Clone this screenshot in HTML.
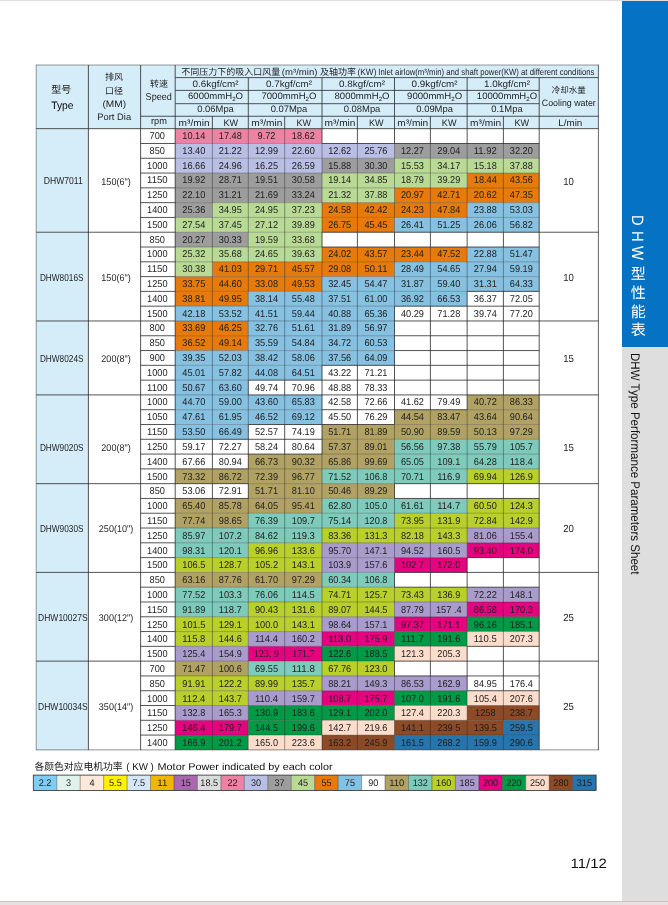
<!DOCTYPE html>
<html lang="zh">
<head>
<meta charset="utf-8">
<title>DHW型性能表 DHW Type Performance Parameters Sheet</title>
<style>
html,body{margin:0;padding:0;}
body{width:668px;height:905px;overflow:hidden;background:#fff;position:relative;
 font-family:"Liberation Sans","Noto Sans CJK SC",sans-serif;color:#1f1f1f;text-rendering:geometricPrecision;}
#page{position:absolute;left:0;top:0;width:668px;height:905px;overflow:hidden;background:#fff;}
#topline{position:absolute;left:0;top:0;width:668px;height:1px;background:#e3dddd;z-index:5;}
#botline{position:absolute;left:0;top:901px;width:668px;height:1px;background:#c9c3c3;z-index:5;}
#botpad{position:absolute;left:0;top:902px;width:668px;height:3px;background:#e7e1e1;z-index:5;}
#side{position:absolute;left:622.2px;top:0;width:46px;height:902px;background:#dedede;}
#side .blue{position:absolute;left:0;top:0;width:46px;height:347.3px;background:#0572c3;}
#side .cn{position:absolute;left:0;top:215px;width:28.6px;writing-mode:vertical-rl;text-orientation:mixed;
 color:#fff;font-size:15px;letter-spacing:3.7px;line-height:28.6px;white-space:nowrap;}
#side .cn span{display:inline-block;font-size:16.4px;letter-spacing:0;transform:scaleY(.9);transform-origin:50% 0;position:relative;left:0.4px;}
#side .cn .a{margin-bottom:3.7px;}
#side .cn .b{margin-bottom:3.7px;}
#side .cn .c{margin-bottom:4.4px;}
#side .en{position:absolute;left:0;top:353.4px;width:23.4px;writing-mode:vertical-rl;text-orientation:mixed;
 color:#111;font-size:12.5px;line-height:23.4px;white-space:nowrap;transform:scaleY(.925);transform-origin:50% 0;}
svg{position:absolute;left:0;top:0;}
svg text{font-family:"Liberation Sans","Noto Sans CJK SC",sans-serif;fill:#1f1f1f;text-anchor:middle;text-rendering:geometricPrecision;}
.d{font-size:9.9px;}
.h{font-size:9.3px;}
.h10{font-size:10px;}
.h11{font-size:10.8px;fill:#000;}
.hc{font-size:10px;}
.hcs{font-size:8.5px;}
.hc9{font-size:9px;}
.ht{font-size:9px;}
.sub{font-size:6px;}
.nm{font-size:10.2px;}
.pt{font-size:9.8px;}
.cw{font-size:10.3px;}
svg text.sf{font-family:"Liberation Serif","Noto Serif CJK SC",serif;font-size:10.4px;}
.lg{font-size:9.6px;}
svg .lt{font-size:10px;text-anchor:start;fill:#111;}
svg .le{font-size:10px;text-anchor:start;fill:#111;}
svg .pn{font-size:13.5px;text-anchor:start;fill:#111;}
</style>
</head>
<body>
<div id="page">
<div id="topline"></div>
<svg width="668" height="905" viewBox="0 0 668 905">
<g id="fills">
<rect x="36.20" y="65.00" width="562.20" height="63.65" fill="#d5ecf9"/>
<rect x="36.20" y="128.65" width="52.20" height="621.23" fill="#d5ecf9"/>
<rect x="175.20" y="128.70" width="146.80" height="14.84" fill="#ee82a4"/>
<rect x="175.20" y="143.49" width="219.30" height="14.84" fill="#b9bfe4"/>
<rect x="394.50" y="143.49" width="144.70" height="14.84" fill="#9d9d9e"/>
<rect x="175.20" y="158.28" width="146.80" height="14.84" fill="#b9bfe4"/>
<rect x="322.00" y="158.28" width="72.50" height="14.84" fill="#9d9d9e"/>
<rect x="394.50" y="158.28" width="144.70" height="14.84" fill="#b9da95"/>
<rect x="175.20" y="173.07" width="146.80" height="14.84" fill="#9d9d9e"/>
<rect x="322.00" y="173.07" width="145.15" height="14.84" fill="#b9da95"/>
<rect x="467.15" y="173.07" width="72.05" height="14.84" fill="#e67a0a"/>
<rect x="175.20" y="187.86" width="146.80" height="14.84" fill="#9d9d9e"/>
<rect x="322.00" y="187.86" width="72.50" height="14.84" fill="#b9da95"/>
<rect x="394.50" y="187.86" width="144.70" height="14.84" fill="#e67a0a"/>
<rect x="175.20" y="202.65" width="37.20" height="14.84" fill="#9d9d9e"/>
<rect x="212.40" y="202.65" width="109.60" height="14.84" fill="#b9da95"/>
<rect x="322.00" y="202.65" width="145.15" height="14.84" fill="#e67a0a"/>
<rect x="467.15" y="202.65" width="72.05" height="14.84" fill="#86c1e1"/>
<rect x="175.20" y="217.44" width="146.80" height="14.84" fill="#b9da95"/>
<rect x="322.00" y="217.44" width="72.50" height="14.84" fill="#e67a0a"/>
<rect x="394.50" y="217.44" width="144.70" height="14.84" fill="#86c1e1"/>
<rect x="175.20" y="232.23" width="73.10" height="14.84" fill="#9d9d9e"/>
<rect x="248.30" y="232.23" width="73.70" height="14.84" fill="#b9da95"/>
<rect x="175.20" y="247.02" width="146.80" height="14.84" fill="#b9da95"/>
<rect x="322.00" y="247.02" width="145.15" height="14.84" fill="#e67a0a"/>
<rect x="467.15" y="247.02" width="72.05" height="14.84" fill="#86c1e1"/>
<rect x="175.20" y="261.81" width="37.20" height="14.84" fill="#b9da95"/>
<rect x="212.40" y="261.81" width="182.10" height="14.84" fill="#e67a0a"/>
<rect x="394.50" y="261.81" width="144.70" height="14.84" fill="#86c1e1"/>
<rect x="175.20" y="276.60" width="146.80" height="14.84" fill="#e67a0a"/>
<rect x="322.00" y="276.60" width="217.20" height="14.84" fill="#86c1e1"/>
<rect x="175.20" y="291.39" width="73.10" height="14.84" fill="#e67a0a"/>
<rect x="248.30" y="291.39" width="218.85" height="14.84" fill="#86c1e1"/>
<rect x="175.20" y="306.18" width="219.30" height="14.84" fill="#86c1e1"/>
<rect x="175.20" y="320.97" width="73.10" height="14.84" fill="#e67a0a"/>
<rect x="248.30" y="320.97" width="146.20" height="14.84" fill="#86c1e1"/>
<rect x="175.20" y="335.76" width="73.10" height="14.84" fill="#e67a0a"/>
<rect x="248.30" y="335.76" width="146.20" height="14.84" fill="#86c1e1"/>
<rect x="175.20" y="350.55" width="219.30" height="14.84" fill="#86c1e1"/>
<rect x="175.20" y="365.34" width="146.80" height="14.84" fill="#86c1e1"/>
<rect x="175.20" y="380.13" width="73.10" height="14.84" fill="#86c1e1"/>
<rect x="175.20" y="394.92" width="146.80" height="14.84" fill="#86c1e1"/>
<rect x="467.15" y="394.92" width="72.05" height="14.84" fill="#b1a263"/>
<rect x="175.20" y="409.71" width="146.80" height="14.84" fill="#86c1e1"/>
<rect x="394.50" y="409.71" width="144.70" height="14.84" fill="#b1a263"/>
<rect x="175.20" y="424.50" width="73.10" height="14.84" fill="#86c1e1"/>
<rect x="322.00" y="424.50" width="217.20" height="14.84" fill="#b1a263"/>
<rect x="322.00" y="439.29" width="72.50" height="14.84" fill="#b1a263"/>
<rect x="394.50" y="439.29" width="144.70" height="14.84" fill="#7fcbbb"/>
<rect x="248.30" y="454.08" width="146.20" height="14.84" fill="#b1a263"/>
<rect x="394.50" y="454.08" width="144.70" height="14.84" fill="#7fcbbb"/>
<rect x="175.20" y="468.87" width="146.80" height="14.84" fill="#b1a263"/>
<rect x="322.00" y="468.87" width="145.15" height="14.84" fill="#7fcbbb"/>
<rect x="467.15" y="468.87" width="72.05" height="14.84" fill="#b9cf2b"/>
<rect x="248.30" y="483.66" width="146.20" height="14.84" fill="#b1a263"/>
<rect x="175.20" y="498.45" width="146.80" height="14.84" fill="#b1a263"/>
<rect x="322.00" y="498.45" width="145.15" height="14.84" fill="#7fcbbb"/>
<rect x="467.15" y="498.45" width="72.05" height="14.84" fill="#b9cf2b"/>
<rect x="175.20" y="513.24" width="73.10" height="14.84" fill="#b1a263"/>
<rect x="248.30" y="513.24" width="146.20" height="14.84" fill="#7fcbbb"/>
<rect x="394.50" y="513.24" width="144.70" height="14.84" fill="#b9cf2b"/>
<rect x="175.20" y="528.03" width="146.80" height="14.84" fill="#7fcbbb"/>
<rect x="322.00" y="528.03" width="145.15" height="14.84" fill="#b9cf2b"/>
<rect x="467.15" y="528.03" width="72.05" height="14.84" fill="#a99ccd"/>
<rect x="175.20" y="542.82" width="73.10" height="14.84" fill="#7fcbbb"/>
<rect x="248.30" y="542.82" width="73.70" height="14.84" fill="#b9cf2b"/>
<rect x="322.00" y="542.82" width="145.15" height="14.84" fill="#a99ccd"/>
<rect x="467.15" y="542.82" width="72.05" height="14.84" fill="#e4047f"/>
<rect x="175.20" y="557.61" width="146.80" height="14.84" fill="#b9cf2b"/>
<rect x="322.00" y="557.61" width="72.50" height="14.84" fill="#a99ccd"/>
<rect x="394.50" y="557.61" width="72.65" height="14.84" fill="#e4047f"/>
<rect x="175.20" y="572.40" width="146.80" height="14.84" fill="#b1a263"/>
<rect x="322.00" y="572.40" width="72.50" height="14.84" fill="#7fcbbb"/>
<rect x="175.20" y="587.19" width="146.80" height="14.84" fill="#7fcbbb"/>
<rect x="322.00" y="587.19" width="145.15" height="14.84" fill="#b9cf2b"/>
<rect x="467.15" y="587.19" width="72.05" height="14.84" fill="#a99ccd"/>
<rect x="175.20" y="601.98" width="73.10" height="14.84" fill="#7fcbbb"/>
<rect x="248.30" y="601.98" width="146.20" height="14.84" fill="#b9cf2b"/>
<rect x="394.50" y="601.98" width="72.65" height="14.84" fill="#a99ccd"/>
<rect x="467.15" y="601.98" width="72.05" height="14.84" fill="#e4047f"/>
<rect x="175.20" y="616.77" width="146.80" height="14.84" fill="#b9cf2b"/>
<rect x="322.00" y="616.77" width="72.50" height="14.84" fill="#a99ccd"/>
<rect x="394.50" y="616.77" width="72.65" height="14.84" fill="#e4047f"/>
<rect x="467.15" y="616.77" width="72.05" height="14.84" fill="#009a47"/>
<rect x="175.20" y="631.56" width="73.10" height="14.84" fill="#b9cf2b"/>
<rect x="248.30" y="631.56" width="73.70" height="14.84" fill="#a99ccd"/>
<rect x="322.00" y="631.56" width="72.50" height="14.84" fill="#e4047f"/>
<rect x="394.50" y="631.56" width="72.65" height="14.84" fill="#009a47"/>
<rect x="467.15" y="631.56" width="72.05" height="14.84" fill="#fcdccb"/>
<rect x="175.20" y="646.35" width="73.10" height="14.84" fill="#a99ccd"/>
<rect x="248.30" y="646.35" width="73.70" height="14.84" fill="#e4047f"/>
<rect x="322.00" y="646.35" width="72.50" height="14.84" fill="#009a47"/>
<rect x="394.50" y="646.35" width="72.65" height="14.84" fill="#fcdccb"/>
<rect x="175.20" y="661.14" width="73.10" height="14.84" fill="#b1a263"/>
<rect x="248.30" y="661.14" width="73.70" height="14.84" fill="#7fcbbb"/>
<rect x="322.00" y="661.14" width="72.50" height="14.84" fill="#b9cf2b"/>
<rect x="175.20" y="675.93" width="146.80" height="14.84" fill="#b9cf2b"/>
<rect x="322.00" y="675.93" width="145.15" height="14.84" fill="#a99ccd"/>
<rect x="175.20" y="690.72" width="73.10" height="14.84" fill="#b9cf2b"/>
<rect x="248.30" y="690.72" width="73.70" height="14.84" fill="#a99ccd"/>
<rect x="322.00" y="690.72" width="72.50" height="14.84" fill="#e4047f"/>
<rect x="394.50" y="690.72" width="72.65" height="14.84" fill="#009a47"/>
<rect x="467.15" y="690.72" width="72.05" height="14.84" fill="#fcdccb"/>
<rect x="175.20" y="705.51" width="73.10" height="14.84" fill="#a99ccd"/>
<rect x="248.30" y="705.51" width="146.20" height="14.84" fill="#009a47"/>
<rect x="394.50" y="705.51" width="72.65" height="14.84" fill="#fcdccb"/>
<rect x="467.15" y="705.51" width="72.05" height="14.84" fill="#8c4a26"/>
<rect x="175.20" y="720.30" width="73.10" height="14.84" fill="#e4047f"/>
<rect x="248.30" y="720.30" width="73.70" height="14.84" fill="#009a47"/>
<rect x="322.00" y="720.30" width="72.50" height="14.84" fill="#fcdccb"/>
<rect x="394.50" y="720.30" width="108.90" height="14.84" fill="#8c4a26"/>
<rect x="503.40" y="720.30" width="35.80" height="14.84" fill="#2775ad"/>
<rect x="175.20" y="735.09" width="73.10" height="14.84" fill="#009a47"/>
<rect x="248.30" y="735.09" width="73.70" height="14.84" fill="#fcdccb"/>
<rect x="322.00" y="735.09" width="72.50" height="14.84" fill="#8c4a26"/>
<rect x="394.50" y="735.09" width="144.70" height="14.84" fill="#2775ad"/>
<line x1="175.20" y1="77.60" x2="598.40" y2="77.60" stroke="#2a2a2a" stroke-width="0.8"/>
<line x1="175.20" y1="90.40" x2="539.20" y2="90.40" stroke="#2a2a2a" stroke-width="0.8"/>
<line x1="175.20" y1="103.70" x2="539.20" y2="103.70" stroke="#2a2a2a" stroke-width="0.8"/>
<line x1="140.60" y1="116.25" x2="598.40" y2="116.25" stroke="#2a2a2a" stroke-width="0.8"/>
<line x1="36.20" y1="128.65" x2="598.40" y2="128.65" stroke="#2a2a2a" stroke-width="0.8"/>
<line x1="88.40" y1="65.00" x2="88.40" y2="128.65" stroke="#2a2a2a" stroke-width="0.8"/>
<line x1="140.60" y1="65.00" x2="140.60" y2="128.65" stroke="#2a2a2a" stroke-width="0.8"/>
<line x1="175.20" y1="65.00" x2="175.20" y2="128.65" stroke="#2a2a2a" stroke-width="0.8"/>
<line x1="212.40" y1="116.25" x2="212.40" y2="128.65" stroke="#2a2a2a" stroke-width="0.8"/>
<line x1="248.30" y1="77.60" x2="248.30" y2="128.65" stroke="#2a2a2a" stroke-width="0.8"/>
<line x1="284.70" y1="116.25" x2="284.70" y2="128.65" stroke="#2a2a2a" stroke-width="0.8"/>
<line x1="322.00" y1="77.60" x2="322.00" y2="128.65" stroke="#2a2a2a" stroke-width="0.8"/>
<line x1="357.40" y1="116.25" x2="357.40" y2="128.65" stroke="#2a2a2a" stroke-width="0.8"/>
<line x1="394.50" y1="77.60" x2="394.50" y2="128.65" stroke="#2a2a2a" stroke-width="0.8"/>
<line x1="430.40" y1="116.25" x2="430.40" y2="128.65" stroke="#2a2a2a" stroke-width="0.8"/>
<line x1="467.15" y1="77.60" x2="467.15" y2="128.65" stroke="#2a2a2a" stroke-width="0.8"/>
<line x1="503.40" y1="116.25" x2="503.40" y2="128.65" stroke="#2a2a2a" stroke-width="0.8"/>
<line x1="539.20" y1="77.60" x2="539.20" y2="128.65" stroke="#2a2a2a" stroke-width="0.8"/>
<line x1="88.40" y1="128.65" x2="88.40" y2="749.88" stroke="#2a2a2a" stroke-width="0.8"/>
<line x1="140.60" y1="128.65" x2="140.60" y2="749.88" stroke="#2a2a2a" stroke-width="0.8"/>
<line x1="175.20" y1="128.65" x2="175.20" y2="749.88" stroke="#2a2a2a" stroke-width="0.8"/>
<line x1="539.20" y1="128.65" x2="539.20" y2="749.88" stroke="#2a2a2a" stroke-width="0.8"/>
<line x1="212.40" y1="128.70" x2="212.40" y2="439.29" stroke="#2a2a2a" stroke-width="0.8" stroke-opacity="0.55"/>
<line x1="212.40" y1="439.29" x2="212.40" y2="468.87" stroke="#2a2a2a" stroke-width="0.8"/>
<line x1="212.40" y1="468.87" x2="212.40" y2="483.66" stroke="#2a2a2a" stroke-width="0.8" stroke-opacity="0.55"/>
<line x1="212.40" y1="483.66" x2="212.40" y2="498.45" stroke="#2a2a2a" stroke-width="0.8"/>
<line x1="212.40" y1="498.45" x2="212.40" y2="749.88" stroke="#2a2a2a" stroke-width="0.8" stroke-opacity="0.55"/>
<line x1="248.30" y1="128.70" x2="248.30" y2="380.13" stroke="#2a2a2a" stroke-width="0.8" stroke-opacity="0.55"/>
<line x1="248.30" y1="380.13" x2="248.30" y2="394.92" stroke="#2a2a2a" stroke-width="0.8"/>
<line x1="248.30" y1="394.92" x2="248.30" y2="424.50" stroke="#2a2a2a" stroke-width="0.8" stroke-opacity="0.55"/>
<line x1="248.30" y1="424.50" x2="248.30" y2="468.87" stroke="#2a2a2a" stroke-width="0.8"/>
<line x1="248.30" y1="468.87" x2="248.30" y2="483.66" stroke="#2a2a2a" stroke-width="0.8" stroke-opacity="0.55"/>
<line x1="248.30" y1="483.66" x2="248.30" y2="498.45" stroke="#2a2a2a" stroke-width="0.8"/>
<line x1="248.30" y1="498.45" x2="248.30" y2="749.88" stroke="#2a2a2a" stroke-width="0.8" stroke-opacity="0.55"/>
<line x1="284.70" y1="128.70" x2="284.70" y2="380.13" stroke="#2a2a2a" stroke-width="0.8" stroke-opacity="0.55"/>
<line x1="284.70" y1="380.13" x2="284.70" y2="394.92" stroke="#2a2a2a" stroke-width="0.8"/>
<line x1="284.70" y1="394.92" x2="284.70" y2="424.50" stroke="#2a2a2a" stroke-width="0.8" stroke-opacity="0.55"/>
<line x1="284.70" y1="424.50" x2="284.70" y2="454.08" stroke="#2a2a2a" stroke-width="0.8"/>
<line x1="284.70" y1="454.08" x2="284.70" y2="749.88" stroke="#2a2a2a" stroke-width="0.8" stroke-opacity="0.55"/>
<line x1="322.00" y1="128.70" x2="322.00" y2="143.49" stroke="#2a2a2a" stroke-width="0.8"/>
<line x1="322.00" y1="143.49" x2="322.00" y2="232.23" stroke="#2a2a2a" stroke-width="0.8" stroke-opacity="0.55"/>
<line x1="322.00" y1="232.23" x2="322.00" y2="247.02" stroke="#2a2a2a" stroke-width="0.8"/>
<line x1="322.00" y1="247.02" x2="322.00" y2="365.34" stroke="#2a2a2a" stroke-width="0.8" stroke-opacity="0.55"/>
<line x1="322.00" y1="365.34" x2="322.00" y2="454.08" stroke="#2a2a2a" stroke-width="0.8"/>
<line x1="322.00" y1="454.08" x2="322.00" y2="749.88" stroke="#2a2a2a" stroke-width="0.8" stroke-opacity="0.55"/>
<line x1="357.40" y1="128.70" x2="357.40" y2="143.49" stroke="#2a2a2a" stroke-width="0.8"/>
<line x1="357.40" y1="143.49" x2="357.40" y2="232.23" stroke="#2a2a2a" stroke-width="0.8" stroke-opacity="0.55"/>
<line x1="357.40" y1="232.23" x2="357.40" y2="247.02" stroke="#2a2a2a" stroke-width="0.8"/>
<line x1="357.40" y1="247.02" x2="357.40" y2="365.34" stroke="#2a2a2a" stroke-width="0.8" stroke-opacity="0.55"/>
<line x1="357.40" y1="365.34" x2="357.40" y2="424.50" stroke="#2a2a2a" stroke-width="0.8"/>
<line x1="357.40" y1="424.50" x2="357.40" y2="749.88" stroke="#2a2a2a" stroke-width="0.8" stroke-opacity="0.55"/>
<line x1="394.50" y1="128.70" x2="394.50" y2="143.49" stroke="#2a2a2a" stroke-width="0.8"/>
<line x1="394.50" y1="143.49" x2="394.50" y2="232.23" stroke="#2a2a2a" stroke-width="0.8" stroke-opacity="0.55"/>
<line x1="394.50" y1="232.23" x2="394.50" y2="247.02" stroke="#2a2a2a" stroke-width="0.8"/>
<line x1="394.50" y1="247.02" x2="394.50" y2="306.18" stroke="#2a2a2a" stroke-width="0.8" stroke-opacity="0.55"/>
<line x1="394.50" y1="306.18" x2="394.50" y2="424.50" stroke="#2a2a2a" stroke-width="0.8"/>
<line x1="394.50" y1="424.50" x2="394.50" y2="483.66" stroke="#2a2a2a" stroke-width="0.8" stroke-opacity="0.55"/>
<line x1="394.50" y1="483.66" x2="394.50" y2="498.45" stroke="#2a2a2a" stroke-width="0.8"/>
<line x1="394.50" y1="498.45" x2="394.50" y2="572.40" stroke="#2a2a2a" stroke-width="0.8" stroke-opacity="0.55"/>
<line x1="394.50" y1="572.40" x2="394.50" y2="587.19" stroke="#2a2a2a" stroke-width="0.8"/>
<line x1="394.50" y1="587.19" x2="394.50" y2="661.14" stroke="#2a2a2a" stroke-width="0.8" stroke-opacity="0.55"/>
<line x1="394.50" y1="661.14" x2="394.50" y2="675.93" stroke="#2a2a2a" stroke-width="0.8"/>
<line x1="394.50" y1="675.93" x2="394.50" y2="749.88" stroke="#2a2a2a" stroke-width="0.8" stroke-opacity="0.55"/>
<line x1="430.40" y1="128.70" x2="430.40" y2="143.49" stroke="#2a2a2a" stroke-width="0.8"/>
<line x1="430.40" y1="143.49" x2="430.40" y2="232.23" stroke="#2a2a2a" stroke-width="0.8" stroke-opacity="0.55"/>
<line x1="430.40" y1="232.23" x2="430.40" y2="247.02" stroke="#2a2a2a" stroke-width="0.8"/>
<line x1="430.40" y1="247.02" x2="430.40" y2="306.18" stroke="#2a2a2a" stroke-width="0.8" stroke-opacity="0.55"/>
<line x1="430.40" y1="306.18" x2="430.40" y2="409.71" stroke="#2a2a2a" stroke-width="0.8"/>
<line x1="430.40" y1="409.71" x2="430.40" y2="483.66" stroke="#2a2a2a" stroke-width="0.8" stroke-opacity="0.55"/>
<line x1="430.40" y1="483.66" x2="430.40" y2="498.45" stroke="#2a2a2a" stroke-width="0.8"/>
<line x1="430.40" y1="498.45" x2="430.40" y2="572.40" stroke="#2a2a2a" stroke-width="0.8" stroke-opacity="0.55"/>
<line x1="430.40" y1="572.40" x2="430.40" y2="587.19" stroke="#2a2a2a" stroke-width="0.8"/>
<line x1="430.40" y1="587.19" x2="430.40" y2="661.14" stroke="#2a2a2a" stroke-width="0.8" stroke-opacity="0.55"/>
<line x1="430.40" y1="661.14" x2="430.40" y2="675.93" stroke="#2a2a2a" stroke-width="0.8"/>
<line x1="430.40" y1="675.93" x2="430.40" y2="749.88" stroke="#2a2a2a" stroke-width="0.8" stroke-opacity="0.55"/>
<line x1="467.15" y1="128.70" x2="467.15" y2="143.49" stroke="#2a2a2a" stroke-width="0.8"/>
<line x1="467.15" y1="143.49" x2="467.15" y2="232.23" stroke="#2a2a2a" stroke-width="0.8" stroke-opacity="0.55"/>
<line x1="467.15" y1="232.23" x2="467.15" y2="247.02" stroke="#2a2a2a" stroke-width="0.8"/>
<line x1="467.15" y1="247.02" x2="467.15" y2="291.39" stroke="#2a2a2a" stroke-width="0.8" stroke-opacity="0.55"/>
<line x1="467.15" y1="291.39" x2="467.15" y2="409.71" stroke="#2a2a2a" stroke-width="0.8"/>
<line x1="467.15" y1="409.71" x2="467.15" y2="483.66" stroke="#2a2a2a" stroke-width="0.8" stroke-opacity="0.55"/>
<line x1="467.15" y1="483.66" x2="467.15" y2="498.45" stroke="#2a2a2a" stroke-width="0.8"/>
<line x1="467.15" y1="498.45" x2="467.15" y2="557.61" stroke="#2a2a2a" stroke-width="0.8" stroke-opacity="0.55"/>
<line x1="467.15" y1="557.61" x2="467.15" y2="587.19" stroke="#2a2a2a" stroke-width="0.8"/>
<line x1="467.15" y1="587.19" x2="467.15" y2="646.35" stroke="#2a2a2a" stroke-width="0.8" stroke-opacity="0.55"/>
<line x1="467.15" y1="646.35" x2="467.15" y2="690.72" stroke="#2a2a2a" stroke-width="0.8"/>
<line x1="467.15" y1="690.72" x2="467.15" y2="749.88" stroke="#2a2a2a" stroke-width="0.8" stroke-opacity="0.55"/>
<line x1="503.40" y1="128.70" x2="503.40" y2="143.49" stroke="#2a2a2a" stroke-width="0.8"/>
<line x1="503.40" y1="143.49" x2="503.40" y2="232.23" stroke="#2a2a2a" stroke-width="0.8" stroke-opacity="0.55"/>
<line x1="503.40" y1="232.23" x2="503.40" y2="247.02" stroke="#2a2a2a" stroke-width="0.8"/>
<line x1="503.40" y1="247.02" x2="503.40" y2="291.39" stroke="#2a2a2a" stroke-width="0.8" stroke-opacity="0.55"/>
<line x1="503.40" y1="291.39" x2="503.40" y2="394.92" stroke="#2a2a2a" stroke-width="0.8"/>
<line x1="503.40" y1="394.92" x2="503.40" y2="483.66" stroke="#2a2a2a" stroke-width="0.8" stroke-opacity="0.55"/>
<line x1="503.40" y1="483.66" x2="503.40" y2="498.45" stroke="#2a2a2a" stroke-width="0.8"/>
<line x1="503.40" y1="498.45" x2="503.40" y2="557.61" stroke="#2a2a2a" stroke-width="0.8" stroke-opacity="0.55"/>
<line x1="503.40" y1="557.61" x2="503.40" y2="587.19" stroke="#2a2a2a" stroke-width="0.8"/>
<line x1="503.40" y1="587.19" x2="503.40" y2="646.35" stroke="#2a2a2a" stroke-width="0.8" stroke-opacity="0.55"/>
<line x1="503.40" y1="646.35" x2="503.40" y2="690.72" stroke="#2a2a2a" stroke-width="0.8"/>
<line x1="503.40" y1="690.72" x2="503.40" y2="749.88" stroke="#2a2a2a" stroke-width="0.8" stroke-opacity="0.55"/>
<line x1="140.60" y1="143.49" x2="175.20" y2="143.49" stroke="#2a2a2a" stroke-width="0.8"/>
<line x1="175.20" y1="143.49" x2="322.00" y2="143.49" stroke="#2a2a2a" stroke-width="0.8" stroke-opacity="0.4"/>
<line x1="322.00" y1="143.49" x2="539.20" y2="143.49" stroke="#2a2a2a" stroke-width="0.8"/>
<line x1="140.60" y1="158.28" x2="175.20" y2="158.28" stroke="#2a2a2a" stroke-width="0.8"/>
<line x1="175.20" y1="158.28" x2="539.20" y2="158.28" stroke="#2a2a2a" stroke-width="0.8" stroke-opacity="0.4"/>
<line x1="140.60" y1="173.07" x2="175.20" y2="173.07" stroke="#2a2a2a" stroke-width="0.8"/>
<line x1="175.20" y1="173.07" x2="539.20" y2="173.07" stroke="#2a2a2a" stroke-width="0.8" stroke-opacity="0.4"/>
<line x1="140.60" y1="187.86" x2="175.20" y2="187.86" stroke="#2a2a2a" stroke-width="0.8"/>
<line x1="175.20" y1="187.86" x2="539.20" y2="187.86" stroke="#2a2a2a" stroke-width="0.8" stroke-opacity="0.4"/>
<line x1="140.60" y1="202.65" x2="175.20" y2="202.65" stroke="#2a2a2a" stroke-width="0.8"/>
<line x1="175.20" y1="202.65" x2="539.20" y2="202.65" stroke="#2a2a2a" stroke-width="0.8" stroke-opacity="0.4"/>
<line x1="140.60" y1="217.44" x2="175.20" y2="217.44" stroke="#2a2a2a" stroke-width="0.8"/>
<line x1="175.20" y1="217.44" x2="539.20" y2="217.44" stroke="#2a2a2a" stroke-width="0.8" stroke-opacity="0.4"/>
<line x1="36.20" y1="232.23" x2="175.20" y2="232.23" stroke="#2a2a2a" stroke-width="0.8"/>
<line x1="539.20" y1="232.23" x2="598.40" y2="232.23" stroke="#2a2a2a" stroke-width="0.8"/>
<line x1="175.20" y1="232.23" x2="322.00" y2="232.23" stroke="#2a2a2a" stroke-width="0.8" stroke-opacity="0.4"/>
<line x1="322.00" y1="232.23" x2="539.20" y2="232.23" stroke="#2a2a2a" stroke-width="0.8"/>
<line x1="140.60" y1="247.02" x2="175.20" y2="247.02" stroke="#2a2a2a" stroke-width="0.8"/>
<line x1="175.20" y1="247.02" x2="322.00" y2="247.02" stroke="#2a2a2a" stroke-width="0.8" stroke-opacity="0.4"/>
<line x1="322.00" y1="247.02" x2="539.20" y2="247.02" stroke="#2a2a2a" stroke-width="0.8"/>
<line x1="140.60" y1="261.81" x2="175.20" y2="261.81" stroke="#2a2a2a" stroke-width="0.8"/>
<line x1="175.20" y1="261.81" x2="539.20" y2="261.81" stroke="#2a2a2a" stroke-width="0.8" stroke-opacity="0.4"/>
<line x1="140.60" y1="276.60" x2="175.20" y2="276.60" stroke="#2a2a2a" stroke-width="0.8"/>
<line x1="175.20" y1="276.60" x2="539.20" y2="276.60" stroke="#2a2a2a" stroke-width="0.8" stroke-opacity="0.4"/>
<line x1="140.60" y1="291.39" x2="175.20" y2="291.39" stroke="#2a2a2a" stroke-width="0.8"/>
<line x1="175.20" y1="291.39" x2="467.15" y2="291.39" stroke="#2a2a2a" stroke-width="0.8" stroke-opacity="0.4"/>
<line x1="467.15" y1="291.39" x2="539.20" y2="291.39" stroke="#2a2a2a" stroke-width="0.8"/>
<line x1="140.60" y1="306.18" x2="175.20" y2="306.18" stroke="#2a2a2a" stroke-width="0.8"/>
<line x1="175.20" y1="306.18" x2="394.50" y2="306.18" stroke="#2a2a2a" stroke-width="0.8" stroke-opacity="0.4"/>
<line x1="394.50" y1="306.18" x2="539.20" y2="306.18" stroke="#2a2a2a" stroke-width="0.8"/>
<line x1="36.20" y1="320.97" x2="175.20" y2="320.97" stroke="#2a2a2a" stroke-width="0.8"/>
<line x1="539.20" y1="320.97" x2="598.40" y2="320.97" stroke="#2a2a2a" stroke-width="0.8"/>
<line x1="175.20" y1="320.97" x2="394.50" y2="320.97" stroke="#2a2a2a" stroke-width="0.8" stroke-opacity="0.4"/>
<line x1="394.50" y1="320.97" x2="539.20" y2="320.97" stroke="#2a2a2a" stroke-width="0.8"/>
<line x1="140.60" y1="335.76" x2="175.20" y2="335.76" stroke="#2a2a2a" stroke-width="0.8"/>
<line x1="175.20" y1="335.76" x2="394.50" y2="335.76" stroke="#2a2a2a" stroke-width="0.8" stroke-opacity="0.4"/>
<line x1="394.50" y1="335.76" x2="539.20" y2="335.76" stroke="#2a2a2a" stroke-width="0.8"/>
<line x1="140.60" y1="350.55" x2="175.20" y2="350.55" stroke="#2a2a2a" stroke-width="0.8"/>
<line x1="175.20" y1="350.55" x2="394.50" y2="350.55" stroke="#2a2a2a" stroke-width="0.8" stroke-opacity="0.4"/>
<line x1="394.50" y1="350.55" x2="539.20" y2="350.55" stroke="#2a2a2a" stroke-width="0.8"/>
<line x1="140.60" y1="365.34" x2="175.20" y2="365.34" stroke="#2a2a2a" stroke-width="0.8"/>
<line x1="175.20" y1="365.34" x2="322.00" y2="365.34" stroke="#2a2a2a" stroke-width="0.8" stroke-opacity="0.4"/>
<line x1="322.00" y1="365.34" x2="539.20" y2="365.34" stroke="#2a2a2a" stroke-width="0.8"/>
<line x1="140.60" y1="380.13" x2="175.20" y2="380.13" stroke="#2a2a2a" stroke-width="0.8"/>
<line x1="175.20" y1="380.13" x2="248.30" y2="380.13" stroke="#2a2a2a" stroke-width="0.8" stroke-opacity="0.4"/>
<line x1="248.30" y1="380.13" x2="539.20" y2="380.13" stroke="#2a2a2a" stroke-width="0.8"/>
<line x1="36.20" y1="394.92" x2="175.20" y2="394.92" stroke="#2a2a2a" stroke-width="0.8"/>
<line x1="539.20" y1="394.92" x2="598.40" y2="394.92" stroke="#2a2a2a" stroke-width="0.8"/>
<line x1="175.20" y1="394.92" x2="248.30" y2="394.92" stroke="#2a2a2a" stroke-width="0.8" stroke-opacity="0.4"/>
<line x1="248.30" y1="394.92" x2="539.20" y2="394.92" stroke="#2a2a2a" stroke-width="0.8"/>
<line x1="140.60" y1="409.71" x2="175.20" y2="409.71" stroke="#2a2a2a" stroke-width="0.8"/>
<line x1="175.20" y1="409.71" x2="322.00" y2="409.71" stroke="#2a2a2a" stroke-width="0.8" stroke-opacity="0.4"/>
<line x1="322.00" y1="409.71" x2="467.15" y2="409.71" stroke="#2a2a2a" stroke-width="0.8"/>
<line x1="467.15" y1="409.71" x2="539.20" y2="409.71" stroke="#2a2a2a" stroke-width="0.8" stroke-opacity="0.4"/>
<line x1="140.60" y1="424.50" x2="175.20" y2="424.50" stroke="#2a2a2a" stroke-width="0.8"/>
<line x1="175.20" y1="424.50" x2="248.30" y2="424.50" stroke="#2a2a2a" stroke-width="0.8" stroke-opacity="0.4"/>
<line x1="248.30" y1="424.50" x2="394.50" y2="424.50" stroke="#2a2a2a" stroke-width="0.8"/>
<line x1="394.50" y1="424.50" x2="539.20" y2="424.50" stroke="#2a2a2a" stroke-width="0.8" stroke-opacity="0.4"/>
<line x1="140.60" y1="439.29" x2="175.20" y2="439.29" stroke="#2a2a2a" stroke-width="0.8"/>
<line x1="175.20" y1="439.29" x2="322.00" y2="439.29" stroke="#2a2a2a" stroke-width="0.8"/>
<line x1="322.00" y1="439.29" x2="539.20" y2="439.29" stroke="#2a2a2a" stroke-width="0.8" stroke-opacity="0.4"/>
<line x1="140.60" y1="454.08" x2="175.20" y2="454.08" stroke="#2a2a2a" stroke-width="0.8"/>
<line x1="175.20" y1="454.08" x2="322.00" y2="454.08" stroke="#2a2a2a" stroke-width="0.8"/>
<line x1="322.00" y1="454.08" x2="539.20" y2="454.08" stroke="#2a2a2a" stroke-width="0.8" stroke-opacity="0.4"/>
<line x1="140.60" y1="468.87" x2="175.20" y2="468.87" stroke="#2a2a2a" stroke-width="0.8"/>
<line x1="175.20" y1="468.87" x2="248.30" y2="468.87" stroke="#2a2a2a" stroke-width="0.8"/>
<line x1="248.30" y1="468.87" x2="539.20" y2="468.87" stroke="#2a2a2a" stroke-width="0.8" stroke-opacity="0.4"/>
<line x1="36.20" y1="483.66" x2="175.20" y2="483.66" stroke="#2a2a2a" stroke-width="0.8"/>
<line x1="539.20" y1="483.66" x2="598.40" y2="483.66" stroke="#2a2a2a" stroke-width="0.8"/>
<line x1="175.20" y1="483.66" x2="248.30" y2="483.66" stroke="#2a2a2a" stroke-width="0.8"/>
<line x1="248.30" y1="483.66" x2="394.50" y2="483.66" stroke="#2a2a2a" stroke-width="0.8" stroke-opacity="0.4"/>
<line x1="394.50" y1="483.66" x2="539.20" y2="483.66" stroke="#2a2a2a" stroke-width="0.8"/>
<line x1="140.60" y1="498.45" x2="175.20" y2="498.45" stroke="#2a2a2a" stroke-width="0.8"/>
<line x1="175.20" y1="498.45" x2="248.30" y2="498.45" stroke="#2a2a2a" stroke-width="0.8"/>
<line x1="248.30" y1="498.45" x2="394.50" y2="498.45" stroke="#2a2a2a" stroke-width="0.8" stroke-opacity="0.4"/>
<line x1="394.50" y1="498.45" x2="539.20" y2="498.45" stroke="#2a2a2a" stroke-width="0.8"/>
<line x1="140.60" y1="513.24" x2="175.20" y2="513.24" stroke="#2a2a2a" stroke-width="0.8"/>
<line x1="175.20" y1="513.24" x2="539.20" y2="513.24" stroke="#2a2a2a" stroke-width="0.8" stroke-opacity="0.4"/>
<line x1="140.60" y1="528.03" x2="175.20" y2="528.03" stroke="#2a2a2a" stroke-width="0.8"/>
<line x1="175.20" y1="528.03" x2="539.20" y2="528.03" stroke="#2a2a2a" stroke-width="0.8" stroke-opacity="0.4"/>
<line x1="140.60" y1="542.82" x2="175.20" y2="542.82" stroke="#2a2a2a" stroke-width="0.8"/>
<line x1="175.20" y1="542.82" x2="539.20" y2="542.82" stroke="#2a2a2a" stroke-width="0.8" stroke-opacity="0.4"/>
<line x1="140.60" y1="557.61" x2="175.20" y2="557.61" stroke="#2a2a2a" stroke-width="0.8"/>
<line x1="175.20" y1="557.61" x2="467.15" y2="557.61" stroke="#2a2a2a" stroke-width="0.8" stroke-opacity="0.4"/>
<line x1="467.15" y1="557.61" x2="539.20" y2="557.61" stroke="#2a2a2a" stroke-width="0.8"/>
<line x1="36.20" y1="572.40" x2="175.20" y2="572.40" stroke="#2a2a2a" stroke-width="0.8"/>
<line x1="539.20" y1="572.40" x2="598.40" y2="572.40" stroke="#2a2a2a" stroke-width="0.8"/>
<line x1="175.20" y1="572.40" x2="394.50" y2="572.40" stroke="#2a2a2a" stroke-width="0.8" stroke-opacity="0.4"/>
<line x1="394.50" y1="572.40" x2="539.20" y2="572.40" stroke="#2a2a2a" stroke-width="0.8"/>
<line x1="140.60" y1="587.19" x2="175.20" y2="587.19" stroke="#2a2a2a" stroke-width="0.8"/>
<line x1="175.20" y1="587.19" x2="394.50" y2="587.19" stroke="#2a2a2a" stroke-width="0.8" stroke-opacity="0.4"/>
<line x1="394.50" y1="587.19" x2="539.20" y2="587.19" stroke="#2a2a2a" stroke-width="0.8"/>
<line x1="140.60" y1="601.98" x2="175.20" y2="601.98" stroke="#2a2a2a" stroke-width="0.8"/>
<line x1="175.20" y1="601.98" x2="539.20" y2="601.98" stroke="#2a2a2a" stroke-width="0.8" stroke-opacity="0.4"/>
<line x1="140.60" y1="616.77" x2="175.20" y2="616.77" stroke="#2a2a2a" stroke-width="0.8"/>
<line x1="175.20" y1="616.77" x2="539.20" y2="616.77" stroke="#2a2a2a" stroke-width="0.8" stroke-opacity="0.4"/>
<line x1="140.60" y1="631.56" x2="175.20" y2="631.56" stroke="#2a2a2a" stroke-width="0.8"/>
<line x1="175.20" y1="631.56" x2="539.20" y2="631.56" stroke="#2a2a2a" stroke-width="0.8" stroke-opacity="0.4"/>
<line x1="140.60" y1="646.35" x2="175.20" y2="646.35" stroke="#2a2a2a" stroke-width="0.8"/>
<line x1="175.20" y1="646.35" x2="467.15" y2="646.35" stroke="#2a2a2a" stroke-width="0.8" stroke-opacity="0.4"/>
<line x1="467.15" y1="646.35" x2="539.20" y2="646.35" stroke="#2a2a2a" stroke-width="0.8"/>
<line x1="36.20" y1="661.14" x2="175.20" y2="661.14" stroke="#2a2a2a" stroke-width="0.8"/>
<line x1="539.20" y1="661.14" x2="598.40" y2="661.14" stroke="#2a2a2a" stroke-width="0.8"/>
<line x1="175.20" y1="661.14" x2="394.50" y2="661.14" stroke="#2a2a2a" stroke-width="0.8" stroke-opacity="0.4"/>
<line x1="394.50" y1="661.14" x2="539.20" y2="661.14" stroke="#2a2a2a" stroke-width="0.8"/>
<line x1="140.60" y1="675.93" x2="175.20" y2="675.93" stroke="#2a2a2a" stroke-width="0.8"/>
<line x1="175.20" y1="675.93" x2="394.50" y2="675.93" stroke="#2a2a2a" stroke-width="0.8" stroke-opacity="0.4"/>
<line x1="394.50" y1="675.93" x2="539.20" y2="675.93" stroke="#2a2a2a" stroke-width="0.8"/>
<line x1="140.60" y1="690.72" x2="175.20" y2="690.72" stroke="#2a2a2a" stroke-width="0.8"/>
<line x1="175.20" y1="690.72" x2="467.15" y2="690.72" stroke="#2a2a2a" stroke-width="0.8" stroke-opacity="0.4"/>
<line x1="467.15" y1="690.72" x2="539.20" y2="690.72" stroke="#2a2a2a" stroke-width="0.8"/>
<line x1="140.60" y1="705.51" x2="175.20" y2="705.51" stroke="#2a2a2a" stroke-width="0.8"/>
<line x1="175.20" y1="705.51" x2="539.20" y2="705.51" stroke="#2a2a2a" stroke-width="0.8" stroke-opacity="0.4"/>
<line x1="140.60" y1="720.30" x2="175.20" y2="720.30" stroke="#2a2a2a" stroke-width="0.8"/>
<line x1="175.20" y1="720.30" x2="539.20" y2="720.30" stroke="#2a2a2a" stroke-width="0.8" stroke-opacity="0.4"/>
<line x1="140.60" y1="735.09" x2="175.20" y2="735.09" stroke="#2a2a2a" stroke-width="0.8"/>
<line x1="175.20" y1="735.09" x2="539.20" y2="735.09" stroke="#2a2a2a" stroke-width="0.8" stroke-opacity="0.4"/>
<line x1="36.20" y1="64.60" x2="36.20" y2="750.28" stroke="#2a2a2a" stroke-width="0.8" stroke-opacity="0.6"/>
<line x1="36.20" y1="65.00" x2="598.40" y2="65.00" stroke="#2a2a2a" stroke-width="0.8" stroke-opacity="0.6"/>
<line x1="36.20" y1="749.88" x2="598.40" y2="749.88" stroke="#2a2a2a" stroke-width="0.8" stroke-opacity="0.65"/>
<line x1="598.40" y1="64.60" x2="598.40" y2="750.28" stroke="#2a2a2a" stroke-width="0.8" stroke-opacity="0.9"/>
</g>
<g id="legend">
<rect x="33.30" y="775.1" width="23.50" height="15.30" fill="#7fcdf2"/>
<rect x="56.75" y="775.1" width="23.50" height="15.30" fill="#e1f1eb"/>
<rect x="80.20" y="775.1" width="23.50" height="15.30" fill="#fde9da"/>
<rect x="103.65" y="775.1" width="23.50" height="15.30" fill="#fff100"/>
<rect x="127.10" y="775.1" width="23.50" height="15.30" fill="#d5e6f6"/>
<rect x="150.55" y="775.1" width="23.50" height="15.30" fill="#efb800"/>
<rect x="174.00" y="775.1" width="23.50" height="15.30" fill="#a868ad"/>
<rect x="197.45" y="775.1" width="23.50" height="15.30" fill="#dcdcdc"/>
<rect x="220.90" y="775.1" width="23.50" height="15.30" fill="#ee82a4"/>
<rect x="244.35" y="775.1" width="23.50" height="15.30" fill="#b9bfe4"/>
<rect x="267.80" y="775.1" width="23.50" height="15.30" fill="#9d9d9e"/>
<rect x="291.25" y="775.1" width="23.50" height="15.30" fill="#b9da95"/>
<rect x="314.70" y="775.1" width="23.50" height="15.30" fill="#e67a0a"/>
<rect x="338.15" y="775.1" width="23.50" height="15.30" fill="#86c1e1"/>
<rect x="361.60" y="775.1" width="23.50" height="15.30" fill="#ffffff"/>
<rect x="385.05" y="775.1" width="23.50" height="15.30" fill="#b1a263"/>
<rect x="408.50" y="775.1" width="23.50" height="15.30" fill="#7fcbbb"/>
<rect x="431.95" y="775.1" width="23.50" height="15.30" fill="#b9cf2b"/>
<rect x="455.40" y="775.1" width="23.50" height="15.30" fill="#a99ccd"/>
<rect x="478.85" y="775.1" width="23.50" height="15.30" fill="#e4047f"/>
<rect x="502.30" y="775.1" width="23.50" height="15.30" fill="#009a47"/>
<rect x="525.75" y="775.1" width="23.50" height="15.30" fill="#fcdccb"/>
<rect x="549.20" y="775.1" width="23.50" height="15.30" fill="#8c4a26"/>
<rect x="572.65" y="775.1" width="23.50" height="15.30" fill="#2775ad"/>
<line x1="56.75" y1="775.1" x2="56.75" y2="790.4" stroke="#2a2a2a" stroke-width="0.7" stroke-opacity="0.6"/>
<line x1="80.20" y1="775.1" x2="80.20" y2="790.4" stroke="#2a2a2a" stroke-width="0.7" stroke-opacity="0.6"/>
<line x1="103.65" y1="775.1" x2="103.65" y2="790.4" stroke="#2a2a2a" stroke-width="0.7" stroke-opacity="0.6"/>
<line x1="127.10" y1="775.1" x2="127.10" y2="790.4" stroke="#2a2a2a" stroke-width="0.7" stroke-opacity="0.6"/>
<line x1="150.55" y1="775.1" x2="150.55" y2="790.4" stroke="#2a2a2a" stroke-width="0.7" stroke-opacity="0.6"/>
<line x1="174.00" y1="775.1" x2="174.00" y2="790.4" stroke="#2a2a2a" stroke-width="0.7" stroke-opacity="0.6"/>
<line x1="197.45" y1="775.1" x2="197.45" y2="790.4" stroke="#2a2a2a" stroke-width="0.7" stroke-opacity="0.6"/>
<line x1="220.90" y1="775.1" x2="220.90" y2="790.4" stroke="#2a2a2a" stroke-width="0.7" stroke-opacity="0.6"/>
<line x1="244.35" y1="775.1" x2="244.35" y2="790.4" stroke="#2a2a2a" stroke-width="0.7" stroke-opacity="0.6"/>
<line x1="267.80" y1="775.1" x2="267.80" y2="790.4" stroke="#2a2a2a" stroke-width="0.7" stroke-opacity="0.6"/>
<line x1="291.25" y1="775.1" x2="291.25" y2="790.4" stroke="#2a2a2a" stroke-width="0.7" stroke-opacity="0.6"/>
<line x1="314.70" y1="775.1" x2="314.70" y2="790.4" stroke="#2a2a2a" stroke-width="0.7" stroke-opacity="0.6"/>
<line x1="338.15" y1="775.1" x2="338.15" y2="790.4" stroke="#2a2a2a" stroke-width="0.7" stroke-opacity="0.6"/>
<line x1="361.60" y1="775.1" x2="361.60" y2="790.4" stroke="#2a2a2a" stroke-width="0.7" stroke-opacity="0.6"/>
<line x1="385.05" y1="775.1" x2="385.05" y2="790.4" stroke="#2a2a2a" stroke-width="0.7" stroke-opacity="0.6"/>
<line x1="408.50" y1="775.1" x2="408.50" y2="790.4" stroke="#2a2a2a" stroke-width="0.7" stroke-opacity="0.6"/>
<line x1="431.95" y1="775.1" x2="431.95" y2="790.4" stroke="#2a2a2a" stroke-width="0.7" stroke-opacity="0.6"/>
<line x1="455.40" y1="775.1" x2="455.40" y2="790.4" stroke="#2a2a2a" stroke-width="0.7" stroke-opacity="0.6"/>
<line x1="478.85" y1="775.1" x2="478.85" y2="790.4" stroke="#2a2a2a" stroke-width="0.7" stroke-opacity="0.6"/>
<line x1="502.30" y1="775.1" x2="502.30" y2="790.4" stroke="#2a2a2a" stroke-width="0.7" stroke-opacity="0.6"/>
<line x1="525.75" y1="775.1" x2="525.75" y2="790.4" stroke="#2a2a2a" stroke-width="0.7" stroke-opacity="0.6"/>
<line x1="549.20" y1="775.1" x2="549.20" y2="790.4" stroke="#2a2a2a" stroke-width="0.7" stroke-opacity="0.6"/>
<line x1="572.65" y1="775.1" x2="572.65" y2="790.4" stroke="#2a2a2a" stroke-width="0.7" stroke-opacity="0.6"/>
<rect x="33.3" y="775.1" width="562.80" height="15.30" fill="none" stroke="#2a2a2a" stroke-width="0.8"/>
<text class="lg" x="45.02" y="786.0" textLength="12.7" lengthAdjust="spacingAndGlyphs">2.2</text>
<text class="lg" x="68.47" y="786.0" textLength="5.1" lengthAdjust="spacingAndGlyphs">3</text>
<text class="lg" x="91.93" y="786.0" textLength="5.1" lengthAdjust="spacingAndGlyphs">4</text>
<text class="lg" x="115.38" y="786.0" textLength="12.7" lengthAdjust="spacingAndGlyphs">5.5</text>
<text class="lg" x="138.82" y="786.0" textLength="12.7" lengthAdjust="spacingAndGlyphs">7.5</text>
<text class="lg" x="162.28" y="786.0" textLength="10.1" lengthAdjust="spacingAndGlyphs">11</text>
<text class="lg" x="185.73" y="786.0" textLength="10.1" lengthAdjust="spacingAndGlyphs">15</text>
<text class="lg" x="209.18" y="786.0" textLength="17.7" lengthAdjust="spacingAndGlyphs">18.5</text>
<text class="lg" x="232.62" y="786.0" textLength="10.1" lengthAdjust="spacingAndGlyphs">22</text>
<text class="lg" x="256.08" y="786.0" textLength="10.1" lengthAdjust="spacingAndGlyphs">30</text>
<text class="lg" x="279.53" y="786.0" textLength="10.1" lengthAdjust="spacingAndGlyphs">37</text>
<text class="lg" x="302.98" y="786.0" textLength="10.1" lengthAdjust="spacingAndGlyphs">45</text>
<text class="lg" x="326.43" y="786.0" textLength="10.1" lengthAdjust="spacingAndGlyphs">55</text>
<text class="lg" x="349.88" y="786.0" textLength="10.1" lengthAdjust="spacingAndGlyphs">75</text>
<text class="lg" x="373.33" y="786.0" textLength="10.1" lengthAdjust="spacingAndGlyphs">90</text>
<text class="lg" x="396.78" y="786.0" textLength="15.2" lengthAdjust="spacingAndGlyphs">110</text>
<text class="lg" x="420.23" y="786.0" textLength="15.2" lengthAdjust="spacingAndGlyphs">132</text>
<text class="lg" x="443.68" y="786.0" textLength="15.2" lengthAdjust="spacingAndGlyphs">160</text>
<text class="lg" x="467.13" y="786.0" textLength="15.2" lengthAdjust="spacingAndGlyphs">185</text>
<text class="lg" x="490.58" y="786.0" textLength="15.2" lengthAdjust="spacingAndGlyphs">200</text>
<text class="lg" x="514.03" y="786.0" textLength="15.2" lengthAdjust="spacingAndGlyphs">220</text>
<text class="lg" x="537.48" y="786.0" textLength="15.2" lengthAdjust="spacingAndGlyphs">250</text>
<text class="lg" x="560.93" y="786.0" textLength="15.2" lengthAdjust="spacingAndGlyphs">280</text>
<text class="lg" x="584.38" y="786.0" textLength="15.2" lengthAdjust="spacingAndGlyphs">315</text>
</g>
<g id="captions">
<text class="lt" x="34.4" y="770.3" textLength="88.2" lengthAdjust="spacingAndGlyphs">各颜色对应电机功率</text>
<text class="le" x="126.2" y="769.5" textLength="27.6" lengthAdjust="spacingAndGlyphs">( KW )</text>
<text class="le" x="157.6" y="769.5" textLength="175.0" lengthAdjust="spacingAndGlyphs">Motor Power indicated by each color</text>
<text class="pn" x="570.6" y="867.9" textLength="36.2" lengthAdjust="spacingAndGlyphs">11/12</text>
</g>
<g id="labels">
<text class="hc" x="61.30" y="93.20">型号</text>
<text class="h11" x="62.40" y="109.20" textLength="22.3" lengthAdjust="spacingAndGlyphs">Type</text>
<text class="hc9" x="114.10" y="80.30">排风</text>
<text class="hc9" x="114.10" y="93.60">口径</text>
<text class="h" x="114.30" y="106.90" textLength="23.6" lengthAdjust="spacingAndGlyphs">(MM)</text>
<text class="h" x="114.20" y="119.60" textLength="33.8" lengthAdjust="spacingAndGlyphs">Port Dia</text>
<text class="hc9" x="159.10" y="86.60">转速</text>
<text class="h10" x="158.70" y="99.50" textLength="26.2" lengthAdjust="spacingAndGlyphs">Speed</text>
<text class="h" x="158.90" y="123.90" textLength="15.9" lengthAdjust="spacingAndGlyphs">rpm</text>
<text class="h" x="215.55" y="87.20" textLength="46.0" lengthAdjust="spacingAndGlyphs">0.6kgf/cm²</text>
<text class="h" x="215.55" y="99.40" textLength="55.0" lengthAdjust="spacingAndGlyphs">6000mmH<tspan class="sub" dy="2">2</tspan><tspan dy="-2">O</tspan></text>
<text class="h" x="215.55" y="112.30" textLength="36.6" lengthAdjust="spacingAndGlyphs">0.06Mpa</text>
<text class="h" x="194.10" y="125.80" textLength="31.0" lengthAdjust="spacingAndGlyphs">m³/min</text>
<text class="h" x="230.75" y="125.70" textLength="14.6" lengthAdjust="spacingAndGlyphs">KW</text>
<text class="h" x="288.95" y="87.20" textLength="46.0" lengthAdjust="spacingAndGlyphs">0.7kgf/cm²</text>
<text class="h" x="288.95" y="99.40" textLength="55.0" lengthAdjust="spacingAndGlyphs">7000mmH<tspan class="sub" dy="2">2</tspan><tspan dy="-2">O</tspan></text>
<text class="h" x="288.95" y="112.30" textLength="36.6" lengthAdjust="spacingAndGlyphs">0.07Mpa</text>
<text class="h" x="266.80" y="125.80" textLength="31.0" lengthAdjust="spacingAndGlyphs">m³/min</text>
<text class="h" x="303.75" y="125.70" textLength="14.6" lengthAdjust="spacingAndGlyphs">KW</text>
<text class="h" x="362.05" y="87.20" textLength="46.0" lengthAdjust="spacingAndGlyphs">0.8kgf/cm²</text>
<text class="h" x="362.05" y="99.40" textLength="55.0" lengthAdjust="spacingAndGlyphs">8000mmH<tspan class="sub" dy="2">2</tspan><tspan dy="-2">O</tspan></text>
<text class="h" x="362.05" y="112.30" textLength="36.6" lengthAdjust="spacingAndGlyphs">0.08Mpa</text>
<text class="h" x="340.00" y="125.80" textLength="31.0" lengthAdjust="spacingAndGlyphs">m³/min</text>
<text class="h" x="376.35" y="125.70" textLength="14.6" lengthAdjust="spacingAndGlyphs">KW</text>
<text class="h" x="434.62" y="87.20" textLength="46.0" lengthAdjust="spacingAndGlyphs">0.9kgf/cm²</text>
<text class="h" x="434.62" y="99.40" textLength="55.0" lengthAdjust="spacingAndGlyphs">9000mmH<tspan class="sub" dy="2">2</tspan><tspan dy="-2">O</tspan></text>
<text class="h" x="434.62" y="112.30" textLength="36.6" lengthAdjust="spacingAndGlyphs">0.09Mpa</text>
<text class="h" x="412.75" y="125.80" textLength="31.0" lengthAdjust="spacingAndGlyphs">m³/min</text>
<text class="h" x="449.17" y="125.70" textLength="14.6" lengthAdjust="spacingAndGlyphs">KW</text>
<text class="h" x="506.98" y="87.20" textLength="46.0" lengthAdjust="spacingAndGlyphs">1.0kgf/cm²</text>
<text class="h" x="506.98" y="99.40" textLength="60.3" lengthAdjust="spacingAndGlyphs">10000mmH<tspan class="sub" dy="2">2</tspan><tspan dy="-2">O</tspan></text>
<text class="h" x="506.98" y="112.30" textLength="31.4" lengthAdjust="spacingAndGlyphs">0.1Mpa</text>
<text class="h" x="485.57" y="125.80" textLength="31.0" lengthAdjust="spacingAndGlyphs">m³/min</text>
<text class="h" x="521.70" y="125.70" textLength="14.6" lengthAdjust="spacingAndGlyphs">KW</text>
<text class="h" x="570.30" y="126.10" textLength="24.0" lengthAdjust="spacingAndGlyphs">L/min</text>
<text class="hcs" x="568.80" y="92.90">冷却水量</text>
<text class="h" x="568.80" y="105.80" textLength="54.0" lengthAdjust="spacingAndGlyphs">Cooling water</text>
<text class="ht" x="181.30" y="75.00" style="text-anchor:start">不同压力下的吸入口风量</text>
<text class="ht" x="281.80" y="75.00" textLength="35.6" lengthAdjust="spacingAndGlyphs" style="text-anchor:start">(m³/min)</text>
<text class="ht" x="320.00" y="75.00" style="text-anchor:start">及轴功率</text>
<text class="ht" x="357.60" y="75.00" textLength="18.8" lengthAdjust="spacingAndGlyphs" style="text-anchor:start">(KW)</text>
<text class="ht" x="378.30" y="75.00" textLength="216.2" lengthAdjust="spacingAndGlyphs" style="text-anchor:start">Inlet airlow(m³/min) and shaft power(KW) at different conditions</text>
<text class="nm" x="63.30" y="184.46" textLength="39.0" lengthAdjust="spacingAndGlyphs">DHW7011</text>
<text class="pt" x="116.00" y="184.56" textLength="29.3" lengthAdjust="spacingAndGlyphs">150(6")</text>
<text class="cw" x="568.50" y="184.76" textLength="10.7" lengthAdjust="spacingAndGlyphs">10</text>
<text class="d" x="157.30" y="138.95" textLength="15.4" lengthAdjust="spacingAndGlyphs">700</text>
<text class="d" x="193.80" y="138.95" textLength="23.0" lengthAdjust="spacingAndGlyphs">10.14</text>
<text class="d" x="230.35" y="138.95" textLength="23.0" lengthAdjust="spacingAndGlyphs">17.48</text>
<text class="d" x="266.50" y="138.95" textLength="17.9" lengthAdjust="spacingAndGlyphs">9.72</text>
<text class="d" x="303.35" y="138.95" textLength="23.0" lengthAdjust="spacingAndGlyphs">18.62</text>
<text class="d" x="157.30" y="153.76" textLength="15.4" lengthAdjust="spacingAndGlyphs">850</text>
<text class="d" x="193.80" y="153.76" textLength="23.0" lengthAdjust="spacingAndGlyphs">13.40</text>
<text class="d" x="230.35" y="153.76" textLength="23.0" lengthAdjust="spacingAndGlyphs">21.22</text>
<text class="d" x="266.50" y="153.76" textLength="23.0" lengthAdjust="spacingAndGlyphs">12.99</text>
<text class="d" x="303.35" y="153.76" textLength="23.0" lengthAdjust="spacingAndGlyphs">22.60</text>
<text class="d" x="339.70" y="153.76" textLength="23.0" lengthAdjust="spacingAndGlyphs">12.62</text>
<text class="d" x="375.95" y="153.76" textLength="23.0" lengthAdjust="spacingAndGlyphs">25.76</text>
<text class="d" x="412.45" y="153.76" textLength="23.0" lengthAdjust="spacingAndGlyphs">12.27</text>
<text class="d" x="448.77" y="153.76" textLength="23.0" lengthAdjust="spacingAndGlyphs">29.04</text>
<text class="d" x="485.27" y="153.76" textLength="23.0" lengthAdjust="spacingAndGlyphs">11.92</text>
<text class="d" x="521.30" y="153.76" textLength="23.0" lengthAdjust="spacingAndGlyphs">32.20</text>
<text class="d" x="157.30" y="168.57" textLength="20.5" lengthAdjust="spacingAndGlyphs">1000</text>
<text class="d" x="193.80" y="168.57" textLength="23.0" lengthAdjust="spacingAndGlyphs">16.66</text>
<text class="d" x="230.35" y="168.57" textLength="23.0" lengthAdjust="spacingAndGlyphs">24.96</text>
<text class="d" x="266.50" y="168.57" textLength="23.0" lengthAdjust="spacingAndGlyphs">16.25</text>
<text class="d" x="303.35" y="168.57" textLength="23.0" lengthAdjust="spacingAndGlyphs">26.59</text>
<text class="d" x="339.70" y="168.57" textLength="23.0" lengthAdjust="spacingAndGlyphs">15.88</text>
<text class="d" x="375.95" y="168.57" textLength="23.0" lengthAdjust="spacingAndGlyphs">30.30</text>
<text class="d" x="412.45" y="168.57" textLength="23.0" lengthAdjust="spacingAndGlyphs">15.53</text>
<text class="d" x="448.77" y="168.57" textLength="23.0" lengthAdjust="spacingAndGlyphs">34.17</text>
<text class="d" x="485.27" y="168.57" textLength="23.0" lengthAdjust="spacingAndGlyphs">15.18</text>
<text class="d" x="521.30" y="168.57" textLength="23.0" lengthAdjust="spacingAndGlyphs">37.88</text>
<text class="d" x="157.30" y="183.37" textLength="20.5" lengthAdjust="spacingAndGlyphs">1150</text>
<text class="d" x="193.80" y="183.37" textLength="23.0" lengthAdjust="spacingAndGlyphs">19.92</text>
<text class="d" x="230.35" y="183.37" textLength="23.0" lengthAdjust="spacingAndGlyphs">28.71</text>
<text class="d" x="266.50" y="183.37" textLength="23.0" lengthAdjust="spacingAndGlyphs">19.51</text>
<text class="d" x="303.35" y="183.37" textLength="23.0" lengthAdjust="spacingAndGlyphs">30.58</text>
<text class="d" x="339.70" y="183.37" textLength="23.0" lengthAdjust="spacingAndGlyphs">19.14</text>
<text class="d" x="375.95" y="183.37" textLength="23.0" lengthAdjust="spacingAndGlyphs">34.85</text>
<text class="d" x="412.45" y="183.37" textLength="23.0" lengthAdjust="spacingAndGlyphs">18.79</text>
<text class="d" x="448.77" y="183.37" textLength="23.0" lengthAdjust="spacingAndGlyphs">39.29</text>
<text class="d" x="485.27" y="183.37" textLength="23.0" lengthAdjust="spacingAndGlyphs">18.44</text>
<text class="d" x="521.30" y="183.37" textLength="23.0" lengthAdjust="spacingAndGlyphs">43.56</text>
<text class="d" x="157.30" y="198.18" textLength="20.5" lengthAdjust="spacingAndGlyphs">1250</text>
<text class="d" x="193.80" y="198.18" textLength="23.0" lengthAdjust="spacingAndGlyphs">22.10</text>
<text class="d" x="230.35" y="198.18" textLength="23.0" lengthAdjust="spacingAndGlyphs">31.21</text>
<text class="d" x="266.50" y="198.18" textLength="23.0" lengthAdjust="spacingAndGlyphs">21.69</text>
<text class="d" x="303.35" y="198.18" textLength="23.0" lengthAdjust="spacingAndGlyphs">33.24</text>
<text class="d" x="339.70" y="198.18" textLength="23.0" lengthAdjust="spacingAndGlyphs">21.32</text>
<text class="d" x="375.95" y="198.18" textLength="23.0" lengthAdjust="spacingAndGlyphs">37.88</text>
<text class="d" x="412.45" y="198.18" textLength="23.0" lengthAdjust="spacingAndGlyphs">20.97</text>
<text class="d" x="448.77" y="198.18" textLength="23.0" lengthAdjust="spacingAndGlyphs">42.71</text>
<text class="d" x="485.27" y="198.18" textLength="23.0" lengthAdjust="spacingAndGlyphs">20.62</text>
<text class="d" x="521.30" y="198.18" textLength="23.0" lengthAdjust="spacingAndGlyphs">47.35</text>
<text class="d" x="157.30" y="212.99" textLength="20.5" lengthAdjust="spacingAndGlyphs">1400</text>
<text class="d" x="193.80" y="212.99" textLength="23.0" lengthAdjust="spacingAndGlyphs">25.36</text>
<text class="d" x="230.35" y="212.99" textLength="23.0" lengthAdjust="spacingAndGlyphs">34.95</text>
<text class="d" x="266.50" y="212.99" textLength="23.0" lengthAdjust="spacingAndGlyphs">24.95</text>
<text class="d" x="303.35" y="212.99" textLength="23.0" lengthAdjust="spacingAndGlyphs">37.23</text>
<text class="d" x="339.70" y="212.99" textLength="23.0" lengthAdjust="spacingAndGlyphs">24.58</text>
<text class="d" x="375.95" y="212.99" textLength="23.0" lengthAdjust="spacingAndGlyphs">42.42</text>
<text class="d" x="412.45" y="212.99" textLength="23.0" lengthAdjust="spacingAndGlyphs">24.23</text>
<text class="d" x="448.77" y="212.99" textLength="23.0" lengthAdjust="spacingAndGlyphs">47.84</text>
<text class="d" x="485.27" y="212.99" textLength="23.0" lengthAdjust="spacingAndGlyphs">23.88</text>
<text class="d" x="521.30" y="212.99" textLength="23.0" lengthAdjust="spacingAndGlyphs">53.03</text>
<text class="d" x="157.30" y="227.80" textLength="20.5" lengthAdjust="spacingAndGlyphs">1500</text>
<text class="d" x="193.80" y="227.80" textLength="23.0" lengthAdjust="spacingAndGlyphs">27.54</text>
<text class="d" x="230.35" y="227.80" textLength="23.0" lengthAdjust="spacingAndGlyphs">37.45</text>
<text class="d" x="266.50" y="227.80" textLength="23.0" lengthAdjust="spacingAndGlyphs">27.12</text>
<text class="d" x="303.35" y="227.80" textLength="23.0" lengthAdjust="spacingAndGlyphs">39.89</text>
<text class="d" x="339.70" y="227.80" textLength="23.0" lengthAdjust="spacingAndGlyphs">26.75</text>
<text class="d" x="375.95" y="227.80" textLength="23.0" lengthAdjust="spacingAndGlyphs">45.45</text>
<text class="d" x="412.45" y="227.80" textLength="23.0" lengthAdjust="spacingAndGlyphs">26.41</text>
<text class="d" x="448.77" y="227.80" textLength="23.0" lengthAdjust="spacingAndGlyphs">51.25</text>
<text class="d" x="485.27" y="227.80" textLength="23.0" lengthAdjust="spacingAndGlyphs">26.06</text>
<text class="d" x="521.30" y="227.80" textLength="23.0" lengthAdjust="spacingAndGlyphs">56.82</text>
<text class="nm" x="61.70" y="280.60" textLength="43.6" lengthAdjust="spacingAndGlyphs">DHW8016S</text>
<text class="pt" x="116.00" y="280.70" textLength="29.3" lengthAdjust="spacingAndGlyphs">150(6")</text>
<text class="cw" x="568.50" y="280.90" textLength="10.7" lengthAdjust="spacingAndGlyphs">10</text>
<text class="d" x="157.30" y="242.61" textLength="15.4" lengthAdjust="spacingAndGlyphs">850</text>
<text class="d" x="193.80" y="242.61" textLength="23.0" lengthAdjust="spacingAndGlyphs">20.27</text>
<text class="d" x="230.35" y="242.61" textLength="23.0" lengthAdjust="spacingAndGlyphs">30.33</text>
<text class="d" x="266.50" y="242.61" textLength="23.0" lengthAdjust="spacingAndGlyphs">19.59</text>
<text class="d" x="303.35" y="242.61" textLength="23.0" lengthAdjust="spacingAndGlyphs">33.68</text>
<text class="d" x="157.30" y="257.41" textLength="20.5" lengthAdjust="spacingAndGlyphs">1000</text>
<text class="d" x="193.80" y="257.41" textLength="23.0" lengthAdjust="spacingAndGlyphs">25.32</text>
<text class="d" x="230.35" y="257.41" textLength="23.0" lengthAdjust="spacingAndGlyphs">35.68</text>
<text class="d" x="266.50" y="257.41" textLength="23.0" lengthAdjust="spacingAndGlyphs">24.65</text>
<text class="d" x="303.35" y="257.41" textLength="23.0" lengthAdjust="spacingAndGlyphs">39.63</text>
<text class="d" x="339.70" y="257.41" textLength="23.0" lengthAdjust="spacingAndGlyphs">24.02</text>
<text class="d" x="375.95" y="257.41" textLength="23.0" lengthAdjust="spacingAndGlyphs">43.57</text>
<text class="d" x="412.45" y="257.41" textLength="23.0" lengthAdjust="spacingAndGlyphs">23.44</text>
<text class="d" x="448.77" y="257.41" textLength="23.0" lengthAdjust="spacingAndGlyphs">47.52</text>
<text class="d" x="485.27" y="257.41" textLength="23.0" lengthAdjust="spacingAndGlyphs">22.88</text>
<text class="d" x="521.30" y="257.41" textLength="23.0" lengthAdjust="spacingAndGlyphs">51.47</text>
<text class="d" x="157.30" y="272.22" textLength="20.5" lengthAdjust="spacingAndGlyphs">1150</text>
<text class="d" x="193.80" y="272.22" textLength="23.0" lengthAdjust="spacingAndGlyphs">30.38</text>
<text class="d" x="230.35" y="272.22" textLength="23.0" lengthAdjust="spacingAndGlyphs">41.03</text>
<text class="d" x="266.50" y="272.22" textLength="23.0" lengthAdjust="spacingAndGlyphs">29.71</text>
<text class="d" x="303.35" y="272.22" textLength="23.0" lengthAdjust="spacingAndGlyphs">45.57</text>
<text class="d" x="339.70" y="272.22" textLength="23.0" lengthAdjust="spacingAndGlyphs">29.08</text>
<text class="d" x="375.95" y="272.22" textLength="23.0" lengthAdjust="spacingAndGlyphs">50.11</text>
<text class="d" x="412.45" y="272.22" textLength="23.0" lengthAdjust="spacingAndGlyphs">28.49</text>
<text class="d" x="448.77" y="272.22" textLength="23.0" lengthAdjust="spacingAndGlyphs">54.65</text>
<text class="d" x="485.27" y="272.22" textLength="23.0" lengthAdjust="spacingAndGlyphs">27.94</text>
<text class="d" x="521.30" y="272.22" textLength="23.0" lengthAdjust="spacingAndGlyphs">59.19</text>
<text class="d" x="157.30" y="287.03" textLength="20.5" lengthAdjust="spacingAndGlyphs">1250</text>
<text class="d" x="193.80" y="287.03" textLength="23.0" lengthAdjust="spacingAndGlyphs">33.75</text>
<text class="d" x="230.35" y="287.03" textLength="23.0" lengthAdjust="spacingAndGlyphs">44.60</text>
<text class="d" x="266.50" y="287.03" textLength="23.0" lengthAdjust="spacingAndGlyphs">33.08</text>
<text class="d" x="303.35" y="287.03" textLength="23.0" lengthAdjust="spacingAndGlyphs">49.53</text>
<text class="d" x="339.70" y="287.03" textLength="23.0" lengthAdjust="spacingAndGlyphs">32.45</text>
<text class="d" x="375.95" y="287.03" textLength="23.0" lengthAdjust="spacingAndGlyphs">54.47</text>
<text class="d" x="412.45" y="287.03" textLength="23.0" lengthAdjust="spacingAndGlyphs">31.87</text>
<text class="d" x="448.77" y="287.03" textLength="23.0" lengthAdjust="spacingAndGlyphs">59.40</text>
<text class="d" x="485.27" y="287.03" textLength="23.0" lengthAdjust="spacingAndGlyphs">31.31</text>
<text class="d" x="521.30" y="287.03" textLength="23.0" lengthAdjust="spacingAndGlyphs">64.33</text>
<text class="d" x="157.30" y="301.84" textLength="20.5" lengthAdjust="spacingAndGlyphs">1400</text>
<text class="d" x="193.80" y="301.84" textLength="23.0" lengthAdjust="spacingAndGlyphs">38.81</text>
<text class="d" x="230.35" y="301.84" textLength="23.0" lengthAdjust="spacingAndGlyphs">49.95</text>
<text class="d" x="266.50" y="301.84" textLength="23.0" lengthAdjust="spacingAndGlyphs">38.14</text>
<text class="d" x="303.35" y="301.84" textLength="23.0" lengthAdjust="spacingAndGlyphs">55.48</text>
<text class="d" x="339.70" y="301.84" textLength="23.0" lengthAdjust="spacingAndGlyphs">37.51</text>
<text class="d" x="375.95" y="301.84" textLength="23.0" lengthAdjust="spacingAndGlyphs">61.00</text>
<text class="d" x="412.45" y="301.84" textLength="23.0" lengthAdjust="spacingAndGlyphs">36.92</text>
<text class="d" x="448.77" y="301.84" textLength="23.0" lengthAdjust="spacingAndGlyphs">66.53</text>
<text class="d" x="485.27" y="301.84" textLength="23.0" lengthAdjust="spacingAndGlyphs">36.37</text>
<text class="d" x="521.30" y="301.84" textLength="23.0" lengthAdjust="spacingAndGlyphs">72.05</text>
<text class="d" x="157.30" y="316.65" textLength="20.5" lengthAdjust="spacingAndGlyphs">1500</text>
<text class="d" x="193.80" y="316.65" textLength="23.0" lengthAdjust="spacingAndGlyphs">42.18</text>
<text class="d" x="230.35" y="316.65" textLength="23.0" lengthAdjust="spacingAndGlyphs">53.52</text>
<text class="d" x="266.50" y="316.65" textLength="23.0" lengthAdjust="spacingAndGlyphs">41.51</text>
<text class="d" x="303.35" y="316.65" textLength="23.0" lengthAdjust="spacingAndGlyphs">59.44</text>
<text class="d" x="339.70" y="316.65" textLength="23.0" lengthAdjust="spacingAndGlyphs">40.88</text>
<text class="d" x="375.95" y="316.65" textLength="23.0" lengthAdjust="spacingAndGlyphs">65.36</text>
<text class="d" x="412.45" y="316.65" textLength="23.0" lengthAdjust="spacingAndGlyphs">40.29</text>
<text class="d" x="448.77" y="316.65" textLength="23.0" lengthAdjust="spacingAndGlyphs">71.28</text>
<text class="d" x="485.27" y="316.65" textLength="23.0" lengthAdjust="spacingAndGlyphs">39.74</text>
<text class="d" x="521.30" y="316.65" textLength="23.0" lengthAdjust="spacingAndGlyphs">77.20</text>
<text class="nm" x="61.70" y="361.94" textLength="43.6" lengthAdjust="spacingAndGlyphs">DHW8024S</text>
<text class="pt" x="116.00" y="362.04" textLength="29.3" lengthAdjust="spacingAndGlyphs">200(8")</text>
<text class="cw" x="568.50" y="362.24" textLength="10.7" lengthAdjust="spacingAndGlyphs">15</text>
<text class="d" x="157.30" y="331.45" textLength="15.4" lengthAdjust="spacingAndGlyphs">800</text>
<text class="d" x="193.80" y="331.45" textLength="23.0" lengthAdjust="spacingAndGlyphs">33.69</text>
<text class="d" x="230.35" y="331.45" textLength="23.0" lengthAdjust="spacingAndGlyphs">46.25</text>
<text class="d" x="266.50" y="331.45" textLength="23.0" lengthAdjust="spacingAndGlyphs">32.76</text>
<text class="d" x="303.35" y="331.45" textLength="23.0" lengthAdjust="spacingAndGlyphs">51.61</text>
<text class="d" x="339.70" y="331.45" textLength="23.0" lengthAdjust="spacingAndGlyphs">31.89</text>
<text class="d" x="375.95" y="331.45" textLength="23.0" lengthAdjust="spacingAndGlyphs">56.97</text>
<text class="d" x="157.30" y="346.26" textLength="15.4" lengthAdjust="spacingAndGlyphs">850</text>
<text class="d" x="193.80" y="346.26" textLength="23.0" lengthAdjust="spacingAndGlyphs">36.52</text>
<text class="d" x="230.35" y="346.26" textLength="23.0" lengthAdjust="spacingAndGlyphs">49.14</text>
<text class="d" x="266.50" y="346.26" textLength="23.0" lengthAdjust="spacingAndGlyphs">35.59</text>
<text class="d" x="303.35" y="346.26" textLength="23.0" lengthAdjust="spacingAndGlyphs">54.84</text>
<text class="d" x="339.70" y="346.26" textLength="23.0" lengthAdjust="spacingAndGlyphs">34.72</text>
<text class="d" x="375.95" y="346.26" textLength="23.0" lengthAdjust="spacingAndGlyphs">60.53</text>
<text class="d" x="157.30" y="361.07" textLength="15.4" lengthAdjust="spacingAndGlyphs">900</text>
<text class="d" x="193.80" y="361.07" textLength="23.0" lengthAdjust="spacingAndGlyphs">39.35</text>
<text class="d" x="230.35" y="361.07" textLength="23.0" lengthAdjust="spacingAndGlyphs">52.03</text>
<text class="d" x="266.50" y="361.07" textLength="23.0" lengthAdjust="spacingAndGlyphs">38.42</text>
<text class="d" x="303.35" y="361.07" textLength="23.0" lengthAdjust="spacingAndGlyphs">58.06</text>
<text class="d" x="339.70" y="361.07" textLength="23.0" lengthAdjust="spacingAndGlyphs">37.56</text>
<text class="d" x="375.95" y="361.07" textLength="23.0" lengthAdjust="spacingAndGlyphs">64.09</text>
<text class="d" x="157.30" y="375.88" textLength="20.5" lengthAdjust="spacingAndGlyphs">1000</text>
<text class="d" x="193.80" y="375.88" textLength="23.0" lengthAdjust="spacingAndGlyphs">45.01</text>
<text class="d" x="230.35" y="375.88" textLength="23.0" lengthAdjust="spacingAndGlyphs">57.82</text>
<text class="d" x="266.50" y="375.88" textLength="23.0" lengthAdjust="spacingAndGlyphs">44.08</text>
<text class="d" x="303.35" y="375.88" textLength="23.0" lengthAdjust="spacingAndGlyphs">64.51</text>
<text class="d" x="339.70" y="375.88" textLength="23.0" lengthAdjust="spacingAndGlyphs">43.22</text>
<text class="d" x="375.95" y="375.88" textLength="23.0" lengthAdjust="spacingAndGlyphs">71.21</text>
<text class="d" x="157.30" y="390.69" textLength="20.5" lengthAdjust="spacingAndGlyphs">1100</text>
<text class="d" x="193.80" y="390.69" textLength="23.0" lengthAdjust="spacingAndGlyphs">50.67</text>
<text class="d" x="230.35" y="390.69" textLength="23.0" lengthAdjust="spacingAndGlyphs">63.60</text>
<text class="d" x="266.50" y="390.69" textLength="23.0" lengthAdjust="spacingAndGlyphs">49.74</text>
<text class="d" x="303.35" y="390.69" textLength="23.0" lengthAdjust="spacingAndGlyphs">70.96</text>
<text class="d" x="339.70" y="390.69" textLength="23.0" lengthAdjust="spacingAndGlyphs">48.88</text>
<text class="d" x="375.95" y="390.69" textLength="23.0" lengthAdjust="spacingAndGlyphs">78.33</text>
<text class="nm" x="61.70" y="450.79" textLength="43.6" lengthAdjust="spacingAndGlyphs">DHW9020S</text>
<text class="pt" x="116.00" y="450.89" textLength="29.3" lengthAdjust="spacingAndGlyphs">200(8")</text>
<text class="cw" x="568.50" y="451.09" textLength="10.7" lengthAdjust="spacingAndGlyphs">15</text>
<text class="d" x="157.30" y="405.49" textLength="20.5" lengthAdjust="spacingAndGlyphs">1000</text>
<text class="d" x="193.80" y="405.49" textLength="23.0" lengthAdjust="spacingAndGlyphs">44.70</text>
<text class="d" x="230.35" y="405.49" textLength="23.0" lengthAdjust="spacingAndGlyphs">59.00</text>
<text class="d" x="266.50" y="405.49" textLength="23.0" lengthAdjust="spacingAndGlyphs">43.60</text>
<text class="d" x="303.35" y="405.49" textLength="23.0" lengthAdjust="spacingAndGlyphs">65.83</text>
<text class="d" x="339.70" y="405.49" textLength="23.0" lengthAdjust="spacingAndGlyphs">42.58</text>
<text class="d" x="375.95" y="405.49" textLength="23.0" lengthAdjust="spacingAndGlyphs">72.66</text>
<text class="d" x="412.45" y="405.49" textLength="23.0" lengthAdjust="spacingAndGlyphs">41.62</text>
<text class="d" x="448.77" y="405.49" textLength="23.0" lengthAdjust="spacingAndGlyphs">79.49</text>
<text class="d" x="485.27" y="405.49" textLength="23.0" lengthAdjust="spacingAndGlyphs">40.72</text>
<text class="d" x="521.30" y="405.49" textLength="23.0" lengthAdjust="spacingAndGlyphs">86.33</text>
<text class="d" x="157.30" y="420.30" textLength="20.5" lengthAdjust="spacingAndGlyphs">1050</text>
<text class="d" x="193.80" y="420.30" textLength="23.0" lengthAdjust="spacingAndGlyphs">47.61</text>
<text class="d" x="230.35" y="420.30" textLength="23.0" lengthAdjust="spacingAndGlyphs">61.95</text>
<text class="d" x="266.50" y="420.30" textLength="23.0" lengthAdjust="spacingAndGlyphs">46.52</text>
<text class="d" x="303.35" y="420.30" textLength="23.0" lengthAdjust="spacingAndGlyphs">69.12</text>
<text class="d" x="339.70" y="420.30" textLength="23.0" lengthAdjust="spacingAndGlyphs">45.50</text>
<text class="d" x="375.95" y="420.30" textLength="23.0" lengthAdjust="spacingAndGlyphs">76.29</text>
<text class="d" x="412.45" y="420.30" textLength="23.0" lengthAdjust="spacingAndGlyphs">44.54</text>
<text class="d" x="448.77" y="420.30" textLength="23.0" lengthAdjust="spacingAndGlyphs">83.47</text>
<text class="d" x="485.27" y="420.30" textLength="23.0" lengthAdjust="spacingAndGlyphs">43.64</text>
<text class="d" x="521.30" y="420.30" textLength="23.0" lengthAdjust="spacingAndGlyphs">90.64</text>
<text class="d" x="157.30" y="435.11" textLength="20.5" lengthAdjust="spacingAndGlyphs">1150</text>
<text class="d" x="193.80" y="435.11" textLength="23.0" lengthAdjust="spacingAndGlyphs">53.50</text>
<text class="d" x="230.35" y="435.11" textLength="23.0" lengthAdjust="spacingAndGlyphs">66.49</text>
<text class="d" x="266.50" y="435.11" textLength="23.0" lengthAdjust="spacingAndGlyphs">52.57</text>
<text class="d" x="303.35" y="435.11" textLength="23.0" lengthAdjust="spacingAndGlyphs">74.19</text>
<text class="d" x="339.70" y="435.11" textLength="23.0" lengthAdjust="spacingAndGlyphs">51.71</text>
<text class="d" x="375.95" y="435.11" textLength="23.0" lengthAdjust="spacingAndGlyphs">81.89</text>
<text class="d" x="412.45" y="435.11" textLength="23.0" lengthAdjust="spacingAndGlyphs">50.90</text>
<text class="d" x="448.77" y="435.11" textLength="23.0" lengthAdjust="spacingAndGlyphs">89.59</text>
<text class="d" x="485.27" y="435.11" textLength="23.0" lengthAdjust="spacingAndGlyphs">50.13</text>
<text class="d" x="521.30" y="435.11" textLength="23.0" lengthAdjust="spacingAndGlyphs">97.29</text>
<text class="d" x="157.30" y="449.92" textLength="20.5" lengthAdjust="spacingAndGlyphs">1250</text>
<text class="d" x="193.80" y="449.92" textLength="23.0" lengthAdjust="spacingAndGlyphs">59.17</text>
<text class="d" x="230.35" y="449.92" textLength="23.0" lengthAdjust="spacingAndGlyphs">72.27</text>
<text class="d" x="266.50" y="449.92" textLength="23.0" lengthAdjust="spacingAndGlyphs">58.24</text>
<text class="d" x="303.35" y="449.92" textLength="23.0" lengthAdjust="spacingAndGlyphs">80.64</text>
<text class="d" x="339.70" y="449.92" textLength="23.0" lengthAdjust="spacingAndGlyphs">57.37</text>
<text class="d" x="375.95" y="449.92" textLength="23.0" lengthAdjust="spacingAndGlyphs">89.01</text>
<text class="d" x="412.45" y="449.92" textLength="23.0" lengthAdjust="spacingAndGlyphs">56.56</text>
<text class="d" x="448.77" y="449.92" textLength="23.0" lengthAdjust="spacingAndGlyphs">97.38</text>
<text class="d" x="485.27" y="449.92" textLength="23.0" lengthAdjust="spacingAndGlyphs">55.79</text>
<text class="d" x="521.30" y="449.92" textLength="23.0" lengthAdjust="spacingAndGlyphs">105.7</text>
<text class="d" x="157.30" y="464.73" textLength="20.5" lengthAdjust="spacingAndGlyphs">1400</text>
<text class="d" x="193.80" y="464.73" textLength="23.0" lengthAdjust="spacingAndGlyphs">67.66</text>
<text class="d" x="230.35" y="464.73" textLength="23.0" lengthAdjust="spacingAndGlyphs">80.94</text>
<text class="d" x="266.50" y="464.73" textLength="23.0" lengthAdjust="spacingAndGlyphs">66.73</text>
<text class="d" x="303.35" y="464.73" textLength="23.0" lengthAdjust="spacingAndGlyphs">90.32</text>
<text class="d" x="339.70" y="464.73" textLength="23.0" lengthAdjust="spacingAndGlyphs">65.86</text>
<text class="d" x="375.95" y="464.73" textLength="23.0" lengthAdjust="spacingAndGlyphs">99.69</text>
<text class="d" x="412.45" y="464.73" textLength="23.0" lengthAdjust="spacingAndGlyphs">65.05</text>
<text class="d" x="448.77" y="464.73" textLength="23.0" lengthAdjust="spacingAndGlyphs">109.1</text>
<text class="d" x="485.27" y="464.73" textLength="23.0" lengthAdjust="spacingAndGlyphs">64.28</text>
<text class="d" x="521.30" y="464.73" textLength="23.0" lengthAdjust="spacingAndGlyphs">118.4</text>
<text class="d" x="157.30" y="479.53" textLength="20.5" lengthAdjust="spacingAndGlyphs">1500</text>
<text class="d" x="193.80" y="479.53" textLength="23.0" lengthAdjust="spacingAndGlyphs">73.32</text>
<text class="d" x="230.35" y="479.53" textLength="23.0" lengthAdjust="spacingAndGlyphs">86.72</text>
<text class="d" x="266.50" y="479.53" textLength="23.0" lengthAdjust="spacingAndGlyphs">72.39</text>
<text class="d" x="303.35" y="479.53" textLength="23.0" lengthAdjust="spacingAndGlyphs">96.77</text>
<text class="d" x="339.70" y="479.53" textLength="23.0" lengthAdjust="spacingAndGlyphs">71.52</text>
<text class="d" x="375.95" y="479.53" textLength="23.0" lengthAdjust="spacingAndGlyphs">106.8</text>
<text class="d" x="412.45" y="479.53" textLength="23.0" lengthAdjust="spacingAndGlyphs">70.71</text>
<text class="d" x="448.77" y="479.53" textLength="23.0" lengthAdjust="spacingAndGlyphs">116.9</text>
<text class="d" x="485.27" y="479.53" textLength="23.0" lengthAdjust="spacingAndGlyphs">69.94</text>
<text class="d" x="521.30" y="479.53" textLength="23.0" lengthAdjust="spacingAndGlyphs">126.9</text>
<text class="nm" x="61.70" y="532.03" textLength="43.6" lengthAdjust="spacingAndGlyphs">DHW9030S</text>
<text class="pt" x="116.00" y="532.13" textLength="34.3" lengthAdjust="spacingAndGlyphs">250(10")</text>
<text class="cw" x="568.50" y="532.33" textLength="10.7" lengthAdjust="spacingAndGlyphs">20</text>
<text class="d" x="157.30" y="494.34" textLength="15.4" lengthAdjust="spacingAndGlyphs">850</text>
<text class="d" x="193.80" y="494.34" textLength="23.0" lengthAdjust="spacingAndGlyphs">53.06</text>
<text class="d" x="230.35" y="494.34" textLength="23.0" lengthAdjust="spacingAndGlyphs">72.91</text>
<text class="d" x="266.50" y="494.34" textLength="23.0" lengthAdjust="spacingAndGlyphs">51.71</text>
<text class="d" x="303.35" y="494.34" textLength="23.0" lengthAdjust="spacingAndGlyphs">81.10</text>
<text class="d" x="339.70" y="494.34" textLength="23.0" lengthAdjust="spacingAndGlyphs">50.46</text>
<text class="d" x="375.95" y="494.34" textLength="23.0" lengthAdjust="spacingAndGlyphs">89.29</text>
<text class="d" x="157.30" y="509.15" textLength="20.5" lengthAdjust="spacingAndGlyphs">1000</text>
<text class="d" x="193.80" y="509.15" textLength="23.0" lengthAdjust="spacingAndGlyphs">65.40</text>
<text class="d" x="230.35" y="509.15" textLength="23.0" lengthAdjust="spacingAndGlyphs">85.78</text>
<text class="d" x="266.50" y="509.15" textLength="23.0" lengthAdjust="spacingAndGlyphs">64.05</text>
<text class="d" x="303.35" y="509.15" textLength="23.0" lengthAdjust="spacingAndGlyphs">95.41</text>
<text class="d" x="339.70" y="509.15" textLength="23.0" lengthAdjust="spacingAndGlyphs">62.80</text>
<text class="d" x="375.95" y="509.15" textLength="23.0" lengthAdjust="spacingAndGlyphs">105.0</text>
<text class="d" x="412.45" y="509.15" textLength="23.0" lengthAdjust="spacingAndGlyphs">61.61</text>
<text class="d" x="448.77" y="509.15" textLength="23.0" lengthAdjust="spacingAndGlyphs">114.7</text>
<text class="d" x="485.27" y="509.15" textLength="23.0" lengthAdjust="spacingAndGlyphs">60.50</text>
<text class="d" x="521.30" y="509.15" textLength="23.0" lengthAdjust="spacingAndGlyphs">124.3</text>
<text class="d" x="157.30" y="523.96" textLength="20.5" lengthAdjust="spacingAndGlyphs">1150</text>
<text class="d" x="193.80" y="523.96" textLength="23.0" lengthAdjust="spacingAndGlyphs">77.74</text>
<text class="d" x="230.35" y="523.96" textLength="23.0" lengthAdjust="spacingAndGlyphs">98.65</text>
<text class="d" x="266.50" y="523.96" textLength="23.0" lengthAdjust="spacingAndGlyphs">76.39</text>
<text class="d" x="303.35" y="523.96" textLength="23.0" lengthAdjust="spacingAndGlyphs">109.7</text>
<text class="d" x="339.70" y="523.96" textLength="23.0" lengthAdjust="spacingAndGlyphs">75.14</text>
<text class="d" x="375.95" y="523.96" textLength="23.0" lengthAdjust="spacingAndGlyphs">120.8</text>
<text class="d" x="412.45" y="523.96" textLength="23.0" lengthAdjust="spacingAndGlyphs">73.95</text>
<text class="d" x="448.77" y="523.96" textLength="23.0" lengthAdjust="spacingAndGlyphs">131.9</text>
<text class="d" x="485.27" y="523.96" textLength="23.0" lengthAdjust="spacingAndGlyphs">72.84</text>
<text class="d" x="521.30" y="523.96" textLength="23.0" lengthAdjust="spacingAndGlyphs">142.9</text>
<text class="d" x="157.30" y="538.77" textLength="20.5" lengthAdjust="spacingAndGlyphs">1250</text>
<text class="d" x="193.80" y="538.77" textLength="23.0" lengthAdjust="spacingAndGlyphs">85.97</text>
<text class="d" x="230.35" y="538.77" textLength="23.0" lengthAdjust="spacingAndGlyphs">107.2</text>
<text class="d" x="266.50" y="538.77" textLength="23.0" lengthAdjust="spacingAndGlyphs">84.62</text>
<text class="d" x="303.35" y="538.77" textLength="23.0" lengthAdjust="spacingAndGlyphs">119.3</text>
<text class="d" x="339.70" y="538.77" textLength="23.0" lengthAdjust="spacingAndGlyphs">83.36</text>
<text class="d" x="375.95" y="538.77" textLength="23.0" lengthAdjust="spacingAndGlyphs">131.3</text>
<text class="d" x="412.45" y="538.77" textLength="23.0" lengthAdjust="spacingAndGlyphs">82.18</text>
<text class="d" x="448.77" y="538.77" textLength="23.0" lengthAdjust="spacingAndGlyphs">143.3</text>
<text class="d" x="485.27" y="538.77" textLength="23.0" lengthAdjust="spacingAndGlyphs">81.06</text>
<text class="d" x="521.30" y="538.77" textLength="23.0" lengthAdjust="spacingAndGlyphs">155.4</text>
<text class="d" x="157.30" y="553.57" textLength="20.5" lengthAdjust="spacingAndGlyphs">1400</text>
<text class="d" x="193.80" y="553.57" textLength="23.0" lengthAdjust="spacingAndGlyphs">98.31</text>
<text class="d" x="230.35" y="553.57" textLength="23.0" lengthAdjust="spacingAndGlyphs">120.1</text>
<text class="d" x="266.50" y="553.57" textLength="23.0" lengthAdjust="spacingAndGlyphs">96.96</text>
<text class="d" x="303.35" y="553.57" textLength="23.0" lengthAdjust="spacingAndGlyphs">133.6</text>
<text class="d" x="339.70" y="553.57" textLength="23.0" lengthAdjust="spacingAndGlyphs">95.70</text>
<text class="d" x="375.95" y="553.57" textLength="23.0" lengthAdjust="spacingAndGlyphs">147.1</text>
<text class="d" x="412.45" y="553.57" textLength="23.0" lengthAdjust="spacingAndGlyphs">94.52</text>
<text class="d" x="448.77" y="553.57" textLength="23.0" lengthAdjust="spacingAndGlyphs">160.5</text>
<text class="d" x="485.27" y="553.57" textLength="23.0" lengthAdjust="spacingAndGlyphs">93.40</text>
<text class="d" x="521.30" y="553.57" textLength="23.0" lengthAdjust="spacingAndGlyphs">174.0</text>
<text class="d" x="157.30" y="568.38" textLength="20.5" lengthAdjust="spacingAndGlyphs">1500</text>
<text class="d" x="193.80" y="568.38" textLength="23.0" lengthAdjust="spacingAndGlyphs">106.5</text>
<text class="d" x="230.35" y="568.38" textLength="23.0" lengthAdjust="spacingAndGlyphs">128.7</text>
<text class="d" x="266.50" y="568.38" textLength="23.0" lengthAdjust="spacingAndGlyphs">105.2</text>
<text class="d" x="303.35" y="568.38" textLength="23.0" lengthAdjust="spacingAndGlyphs">143.1</text>
<text class="d" x="339.70" y="568.38" textLength="23.0" lengthAdjust="spacingAndGlyphs">103.9</text>
<text class="d" x="375.95" y="568.38" textLength="23.0" lengthAdjust="spacingAndGlyphs">157.6</text>
<text class="d" x="412.45" y="568.38" textLength="23.0" lengthAdjust="spacingAndGlyphs">102.7</text>
<text class="d" x="448.77" y="568.38" textLength="23.0" lengthAdjust="spacingAndGlyphs">172.0</text>
<text class="nm" x="62.90" y="620.77" textLength="49.6" lengthAdjust="spacingAndGlyphs">DHW10027S</text>
<text class="pt" x="116.00" y="620.87" textLength="34.3" lengthAdjust="spacingAndGlyphs">300(12")</text>
<text class="cw" x="568.50" y="621.07" textLength="10.7" lengthAdjust="spacingAndGlyphs">25</text>
<text class="d" x="157.30" y="583.19" textLength="15.4" lengthAdjust="spacingAndGlyphs">850</text>
<text class="d" x="193.80" y="583.19" textLength="23.0" lengthAdjust="spacingAndGlyphs">63.16</text>
<text class="d" x="230.35" y="583.19" textLength="23.0" lengthAdjust="spacingAndGlyphs">87.76</text>
<text class="d" x="266.50" y="583.19" textLength="23.0" lengthAdjust="spacingAndGlyphs">61.70</text>
<text class="d" x="303.35" y="583.19" textLength="23.0" lengthAdjust="spacingAndGlyphs">97.29</text>
<text class="d" x="339.70" y="583.19" textLength="23.0" lengthAdjust="spacingAndGlyphs">60.34</text>
<text class="d" x="375.95" y="583.19" textLength="23.0" lengthAdjust="spacingAndGlyphs">106.8</text>
<text class="d" x="157.30" y="598.00" textLength="20.5" lengthAdjust="spacingAndGlyphs">1000</text>
<text class="d" x="193.80" y="598.00" textLength="23.0" lengthAdjust="spacingAndGlyphs">77.52</text>
<text class="d" x="230.35" y="598.00" textLength="23.0" lengthAdjust="spacingAndGlyphs">103.3</text>
<text class="d" x="266.50" y="598.00" textLength="23.0" lengthAdjust="spacingAndGlyphs">76.06</text>
<text class="d" x="303.35" y="598.00" textLength="23.0" lengthAdjust="spacingAndGlyphs">114.5</text>
<text class="d" x="339.70" y="598.00" textLength="23.0" lengthAdjust="spacingAndGlyphs">74.71</text>
<text class="d" x="375.95" y="598.00" textLength="23.0" lengthAdjust="spacingAndGlyphs">125.7</text>
<text class="d" x="412.45" y="598.00" textLength="23.0" lengthAdjust="spacingAndGlyphs">73.43</text>
<text class="d" x="448.77" y="598.00" textLength="23.0" lengthAdjust="spacingAndGlyphs">136.9</text>
<text class="d" x="485.27" y="598.00" textLength="23.0" lengthAdjust="spacingAndGlyphs">72.22</text>
<text class="d" x="521.30" y="598.00" textLength="23.0" lengthAdjust="spacingAndGlyphs">148.1</text>
<text class="d" x="157.30" y="612.81" textLength="20.5" lengthAdjust="spacingAndGlyphs">1150</text>
<text class="d" x="193.80" y="612.81" textLength="23.0" lengthAdjust="spacingAndGlyphs">91.89</text>
<text class="d" x="230.35" y="612.81" textLength="23.0" lengthAdjust="spacingAndGlyphs">118.7</text>
<text class="d" x="266.50" y="612.81" textLength="23.0" lengthAdjust="spacingAndGlyphs">90.43</text>
<text class="d" x="303.35" y="612.81" textLength="23.0" lengthAdjust="spacingAndGlyphs">131.6</text>
<text class="d" x="339.70" y="612.81" textLength="23.0" lengthAdjust="spacingAndGlyphs">89.07</text>
<text class="d" x="375.95" y="612.81" textLength="23.0" lengthAdjust="spacingAndGlyphs">144.5</text>
<text class="d" x="412.45" y="612.81" textLength="23.0" lengthAdjust="spacingAndGlyphs">87.79</text>
<text class="d" x="448.77" y="612.81" textLength="25.6" lengthAdjust="spacingAndGlyphs">157 .4</text>
<text class="d" x="485.27" y="612.81" textLength="23.0" lengthAdjust="spacingAndGlyphs">86.58</text>
<text class="d" x="521.30" y="612.81" textLength="23.0" lengthAdjust="spacingAndGlyphs">170.3</text>
<text class="d" x="157.30" y="627.61" textLength="20.5" lengthAdjust="spacingAndGlyphs">1250</text>
<text class="d" x="193.80" y="627.61" textLength="23.0" lengthAdjust="spacingAndGlyphs">101.5</text>
<text class="d" x="230.35" y="627.61" textLength="23.0" lengthAdjust="spacingAndGlyphs">129.1</text>
<text class="d" x="266.50" y="627.61" textLength="23.0" lengthAdjust="spacingAndGlyphs">100.0</text>
<text class="d" x="303.35" y="627.61" textLength="23.0" lengthAdjust="spacingAndGlyphs">143.1</text>
<text class="d" x="339.70" y="627.61" textLength="23.0" lengthAdjust="spacingAndGlyphs">98.64</text>
<text class="d" x="375.95" y="627.61" textLength="23.0" lengthAdjust="spacingAndGlyphs">157.1</text>
<text class="d" x="412.45" y="627.61" textLength="23.0" lengthAdjust="spacingAndGlyphs">97.37</text>
<text class="d" x="448.77" y="627.61" textLength="23.0" lengthAdjust="spacingAndGlyphs">171.1</text>
<text class="d" x="485.27" y="627.61" textLength="23.0" lengthAdjust="spacingAndGlyphs">96.16</text>
<text class="d" x="521.30" y="627.61" textLength="23.0" lengthAdjust="spacingAndGlyphs">185.1</text>
<text class="d" x="157.30" y="642.42" textLength="20.5" lengthAdjust="spacingAndGlyphs">1400</text>
<text class="d" x="193.80" y="642.42" textLength="23.0" lengthAdjust="spacingAndGlyphs">115.8</text>
<text class="d" x="230.35" y="642.42" textLength="23.0" lengthAdjust="spacingAndGlyphs">144.6</text>
<text class="d" x="266.50" y="642.42" textLength="23.0" lengthAdjust="spacingAndGlyphs">114.4</text>
<text class="d" x="303.35" y="642.42" textLength="23.0" lengthAdjust="spacingAndGlyphs">160.2</text>
<text class="d" x="339.70" y="642.42" textLength="23.0" lengthAdjust="spacingAndGlyphs">113.0</text>
<text class="d" x="375.95" y="642.42" textLength="23.0" lengthAdjust="spacingAndGlyphs">175.9</text>
<text class="d" x="412.45" y="642.42" textLength="23.0" lengthAdjust="spacingAndGlyphs">111.7</text>
<text class="d" x="448.77" y="642.42" textLength="23.0" lengthAdjust="spacingAndGlyphs">191.6</text>
<text class="d" x="485.27" y="642.42" textLength="23.0" lengthAdjust="spacingAndGlyphs">110.5</text>
<text class="d" x="521.30" y="642.42" textLength="23.0" lengthAdjust="spacingAndGlyphs">207.3</text>
<text class="d" x="157.30" y="657.23" textLength="20.5" lengthAdjust="spacingAndGlyphs">1500</text>
<text class="d" x="193.80" y="657.23" textLength="23.0" lengthAdjust="spacingAndGlyphs">125.4</text>
<text class="d" x="230.35" y="657.23" textLength="23.0" lengthAdjust="spacingAndGlyphs">154.9</text>
<text class="d sf" x="266.50" y="657.23" textLength="24.8" lengthAdjust="spacingAndGlyphs">123. 9</text>
<text class="d sf" x="303.35" y="657.23" textLength="22.3" lengthAdjust="spacingAndGlyphs">171.7</text>
<text class="d" x="339.70" y="657.23" textLength="23.0" lengthAdjust="spacingAndGlyphs">122.6</text>
<text class="d" x="375.95" y="657.23" textLength="23.0" lengthAdjust="spacingAndGlyphs">188.5</text>
<text class="d" x="412.45" y="657.23" textLength="23.0" lengthAdjust="spacingAndGlyphs">121.3</text>
<text class="d" x="448.77" y="657.23" textLength="23.0" lengthAdjust="spacingAndGlyphs">205.3</text>
<text class="nm" x="62.90" y="709.51" textLength="49.6" lengthAdjust="spacingAndGlyphs">DHW10034S</text>
<text class="pt" x="116.00" y="709.61" textLength="34.3" lengthAdjust="spacingAndGlyphs">350(14")</text>
<text class="cw" x="568.50" y="709.81" textLength="10.7" lengthAdjust="spacingAndGlyphs">25</text>
<text class="d" x="157.30" y="672.04" textLength="15.4" lengthAdjust="spacingAndGlyphs">700</text>
<text class="d" x="193.80" y="672.04" textLength="23.0" lengthAdjust="spacingAndGlyphs">71.47</text>
<text class="d" x="230.35" y="672.04" textLength="23.0" lengthAdjust="spacingAndGlyphs">100.6</text>
<text class="d" x="266.50" y="672.04" textLength="23.0" lengthAdjust="spacingAndGlyphs">69.55</text>
<text class="d" x="303.35" y="672.04" textLength="23.0" lengthAdjust="spacingAndGlyphs">111.8</text>
<text class="d" x="339.70" y="672.04" textLength="23.0" lengthAdjust="spacingAndGlyphs">67.76</text>
<text class="d" x="375.95" y="672.04" textLength="23.0" lengthAdjust="spacingAndGlyphs">123.0</text>
<text class="d" x="157.30" y="686.85" textLength="15.4" lengthAdjust="spacingAndGlyphs">850</text>
<text class="d" x="193.80" y="686.85" textLength="23.0" lengthAdjust="spacingAndGlyphs">91.91</text>
<text class="d" x="230.35" y="686.85" textLength="23.0" lengthAdjust="spacingAndGlyphs">122.2</text>
<text class="d" x="266.50" y="686.85" textLength="23.0" lengthAdjust="spacingAndGlyphs">89.99</text>
<text class="d" x="303.35" y="686.85" textLength="23.0" lengthAdjust="spacingAndGlyphs">135.7</text>
<text class="d" x="339.70" y="686.85" textLength="23.0" lengthAdjust="spacingAndGlyphs">88.21</text>
<text class="d" x="375.95" y="686.85" textLength="23.0" lengthAdjust="spacingAndGlyphs">149.3</text>
<text class="d" x="412.45" y="686.85" textLength="23.0" lengthAdjust="spacingAndGlyphs">86.53</text>
<text class="d" x="448.77" y="686.85" textLength="23.0" lengthAdjust="spacingAndGlyphs">162.9</text>
<text class="d" x="485.27" y="686.85" textLength="23.0" lengthAdjust="spacingAndGlyphs">84.95</text>
<text class="d" x="521.30" y="686.85" textLength="23.0" lengthAdjust="spacingAndGlyphs">176.4</text>
<text class="d" x="157.30" y="701.65" textLength="20.5" lengthAdjust="spacingAndGlyphs">1000</text>
<text class="d" x="193.80" y="701.65" textLength="23.0" lengthAdjust="spacingAndGlyphs">112.4</text>
<text class="d" x="230.35" y="701.65" textLength="23.0" lengthAdjust="spacingAndGlyphs">143.7</text>
<text class="d" x="266.50" y="701.65" textLength="23.0" lengthAdjust="spacingAndGlyphs">110.4</text>
<text class="d" x="303.35" y="701.65" textLength="23.0" lengthAdjust="spacingAndGlyphs">159.7</text>
<text class="d" x="339.70" y="701.65" textLength="23.0" lengthAdjust="spacingAndGlyphs">108.7</text>
<text class="d" x="375.95" y="701.65" textLength="23.0" lengthAdjust="spacingAndGlyphs">175.7</text>
<text class="d" x="412.45" y="701.65" textLength="23.0" lengthAdjust="spacingAndGlyphs">107.0</text>
<text class="d" x="448.77" y="701.65" textLength="23.0" lengthAdjust="spacingAndGlyphs">191.6</text>
<text class="d" x="485.27" y="701.65" textLength="23.0" lengthAdjust="spacingAndGlyphs">105.4</text>
<text class="d" x="521.30" y="701.65" textLength="23.0" lengthAdjust="spacingAndGlyphs">207.6</text>
<text class="d" x="157.30" y="716.46" textLength="20.5" lengthAdjust="spacingAndGlyphs">1150</text>
<text class="d" x="193.80" y="716.46" textLength="23.0" lengthAdjust="spacingAndGlyphs">132.8</text>
<text class="d" x="230.35" y="716.46" textLength="23.0" lengthAdjust="spacingAndGlyphs">165.3</text>
<text class="d" x="266.50" y="716.46" textLength="23.0" lengthAdjust="spacingAndGlyphs">130.9</text>
<text class="d" x="303.35" y="716.46" textLength="23.0" lengthAdjust="spacingAndGlyphs">183.6</text>
<text class="d" x="339.70" y="716.46" textLength="23.0" lengthAdjust="spacingAndGlyphs">129.1</text>
<text class="d" x="375.95" y="716.46" textLength="23.0" lengthAdjust="spacingAndGlyphs">202.0</text>
<text class="d" x="412.45" y="716.46" textLength="23.0" lengthAdjust="spacingAndGlyphs">127.4</text>
<text class="d" x="448.77" y="716.46" textLength="23.0" lengthAdjust="spacingAndGlyphs">220.3</text>
<text class="d" x="485.27" y="716.46" textLength="20.5" lengthAdjust="spacingAndGlyphs">1258</text>
<text class="d" x="521.30" y="716.46" textLength="23.0" lengthAdjust="spacingAndGlyphs">238.7</text>
<text class="d" x="157.30" y="731.27" textLength="20.5" lengthAdjust="spacingAndGlyphs">1250</text>
<text class="d" x="193.80" y="731.27" textLength="23.0" lengthAdjust="spacingAndGlyphs">146.4</text>
<text class="d" x="230.35" y="731.27" textLength="23.0" lengthAdjust="spacingAndGlyphs">179.7</text>
<text class="d" x="266.50" y="731.27" textLength="23.0" lengthAdjust="spacingAndGlyphs">144.5</text>
<text class="d" x="303.35" y="731.27" textLength="23.0" lengthAdjust="spacingAndGlyphs">199.6</text>
<text class="d" x="339.70" y="731.27" textLength="23.0" lengthAdjust="spacingAndGlyphs">142.7</text>
<text class="d" x="375.95" y="731.27" textLength="23.0" lengthAdjust="spacingAndGlyphs">219.6</text>
<text class="d" x="412.45" y="731.27" textLength="23.0" lengthAdjust="spacingAndGlyphs">141.1</text>
<text class="d" x="448.77" y="731.27" textLength="23.0" lengthAdjust="spacingAndGlyphs">239 5</text>
<text class="d" x="485.27" y="731.27" textLength="23.0" lengthAdjust="spacingAndGlyphs">139.5</text>
<text class="d" x="521.30" y="731.27" textLength="23.0" lengthAdjust="spacingAndGlyphs">259.5</text>
<text class="d" x="157.30" y="746.08" textLength="20.5" lengthAdjust="spacingAndGlyphs">1400</text>
<text class="d" x="193.80" y="746.08" textLength="23.0" lengthAdjust="spacingAndGlyphs">166.9</text>
<text class="d" x="230.35" y="746.08" textLength="23.0" lengthAdjust="spacingAndGlyphs">201.2</text>
<text class="d" x="266.50" y="746.08" textLength="23.0" lengthAdjust="spacingAndGlyphs">165.0</text>
<text class="d" x="303.35" y="746.08" textLength="23.0" lengthAdjust="spacingAndGlyphs">223.6</text>
<text class="d" x="339.70" y="746.08" textLength="23.0" lengthAdjust="spacingAndGlyphs">163.2</text>
<text class="d" x="375.95" y="746.08" textLength="23.0" lengthAdjust="spacingAndGlyphs">245.9</text>
<text class="d" x="412.45" y="746.08" textLength="23.0" lengthAdjust="spacingAndGlyphs">161.5</text>
<text class="d" x="448.77" y="746.08" textLength="23.0" lengthAdjust="spacingAndGlyphs">268.2</text>
<text class="d" x="485.27" y="746.08" textLength="23.0" lengthAdjust="spacingAndGlyphs">159.9</text>
<text class="d" x="521.30" y="746.08" textLength="23.0" lengthAdjust="spacingAndGlyphs">290.6</text>
</g>
</svg>
<div id="side"><div class="blue"></div>
<div class="cn"><span class="a">D</span><span class="b">H</span><span class="c">W</span>型性能表</div>
<div class="en">DHW Type Performance Parameters Sheet</div>
</div>
<div id="botline"></div><div id="botpad"></div>
</div>
</body>
</html>
